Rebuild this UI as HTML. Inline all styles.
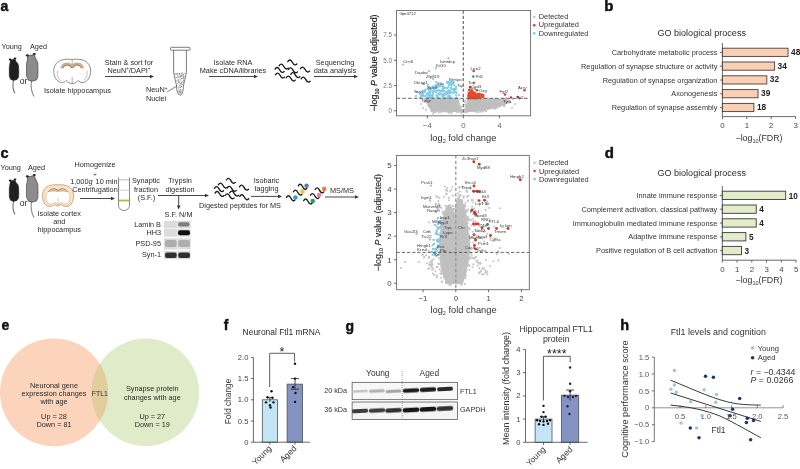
<!DOCTYPE html>
<html><head><meta charset="utf-8"><style>
html,body{margin:0;padding:0;background:#fff;width:800px;height:469px;overflow:hidden}
svg{display:block;font-family:"Liberation Sans",sans-serif;will-change:transform}
</style></head><body>
<svg width="800" height="469" viewBox="0 0 800 469">
<defs><filter id="bl" x="-20%" y="-100%" width="140%" height="300%"><feGaussianBlur stdDeviation="0.45"/></filter></defs>
<rect width="800" height="469" fill="#fff"/>
<text x="0.50" y="10.90" font-size="14" text-anchor="start" font-weight="bold" fill="#111" stroke="#111" stroke-width="0.45">a</text>
<text x="1.50" y="48.80" font-size="7.3" text-anchor="start" font-weight="normal" fill="#2b2b2b" >Young</text>
<text x="30.00" y="48.80" font-size="7.3" text-anchor="start" font-weight="normal" fill="#2b2b2b" >Aged</text>
<path d="M13.5,80 C12.5,85 13,90 15,93.5" fill="none" stroke="#777" stroke-width="1.1" />
<path d="M31.5,81 C30.5,87 32,93 34,96.5" fill="none" stroke="#888" stroke-width="1.1" />
<path d="M10.5,60 L15,59.2 L16,61.5 L17.8,63.5 L18.6,66 L18.8,72 L18.6,77 L17,79.5 L13.5,80.4 L10.5,79.2 L9.3,76 L9.3,67 L10,63 Z" fill="#1f1f1f" stroke="#222" stroke-width="0.6" />
<ellipse cx="10.2" cy="59.6" rx="1.4" ry="1.0" fill="#1a1a1a"/>
<ellipse cx="15.0" cy="58.6" rx="1.4" ry="1.0" fill="#1a1a1a"/>
<path d="M27.5,55.8 L34.5,54.6 L35,57 L36.5,60 L37.8,63 L38,72 L37.8,77 L36.5,80 L32,81.2 L28.5,80.2 L26.5,76 L26.5,64 L27.5,59 Z" fill="#8c8c8c" stroke="#333" stroke-width="0.6" />
<ellipse cx="27.3" cy="55.4" rx="1.6" ry="1.1" fill="#2a2a2a"/>
<ellipse cx="34.3" cy="54.0" rx="1.6" ry="1.1" fill="#2a2a2a"/>
<text x="19.80" y="84.30" font-size="8.6" text-anchor="start" font-weight="normal" fill="#2b2b2b" >or</text>
<path d="M72.2,59.5 C64,58.5 56,60 54,68 C53,74 55,79 58,81 C61,83.5 64,83 66,80.5 C68,82.5 70,83.5 72.2,83.5 C74.4,83.5 76.4,82.5 78.4,80.5 C80.4,83 83.4,83.5 86.4,81 C89.4,79 91.4,74 90.4,68 C88.4,60 80.4,58.5 72.2,59.5 Z" fill="#fff" stroke="#444" stroke-width="0.6" />
<path d="M72.2,59.5 L72.2,68.5 M72.2,77 L72.2,83.5" fill="none" stroke="#555" stroke-width="0.45" />
<path d="M57.5,70.5 C56.8,74.5 57.8,78 60.5,80.5 M86.9,70.5 C87.6,74.5 86.6,78 83.9,80.5" fill="none" stroke="#777" stroke-width="0.45" />
<path d="M61.8,68.2 C62.3,64.8 65.8,63.6 68.8,64.2 C70.6,64.7 71.6,66 72,67.6 M82.6,68.2 C82.1,64.8 78.6,63.6 75.6,64.2 C73.8,64.7 72.8,66 72.4,67.6" fill="none" stroke="#cfae92" stroke-width="3.2" />
<path d="M62.8,68.2 C63.4,65.6 66.3,64.7 68.9,65.2 C70.3,65.6 71.2,66.6 71.6,67.8 M81.6,68.2 C81,65.6 78.1,64.7 75.5,65.2 C74.1,65.6 73.2,66.6 72.8,67.8" fill="none" stroke="#7a5f4c" stroke-width="0.6" />
<text x="44.00" y="93.30" font-size="7.3" text-anchor="start" font-weight="normal" fill="#2b2b2b" >Isolate hippocampus</text>
<text x="129.00" y="64.50" font-size="7.3" text-anchor="middle" font-weight="normal" fill="#2b2b2b" >Stain &amp; sort for</text>
<text x="129" y="72.8" font-size="7.3" text-anchor="middle" fill="#2b2b2b">NeuN<tspan dy="-2.6" font-size="4.5">+</tspan><tspan dy="2.6">/DAPI</tspan><tspan dy="-2.6" font-size="4.5">+</tspan></text>
<line x1="105.00" y1="76.50" x2="151.00" y2="76.50" stroke="#333" stroke-width="0.9" />
<path d="M154.00,76.50 L150.00,74.70 L150.00,78.30 Z" fill="#333" stroke="none" stroke-width="0.8" />
<path d="M173.6,50 L173.6,72 C174.3,77 175.8,82 176.6,86 C176.8,92 178,95 180,95 C182,95 183.2,92 183.4,86 C184.2,82 185.7,77 186.4,72 L186.4,50" fill="#fff" stroke="#444" stroke-width="0.7" />
<rect x="170.50" y="47.30" width="19.50" height="2.90" fill="#fff" stroke="#444" stroke-width="0.7" rx="0.8"/>
<circle cx="180.53" cy="77.62" r="0.45" fill="#888" />
<circle cx="179.69" cy="92.19" r="0.45" fill="#aaa" />
<circle cx="181.67" cy="82.74" r="0.45" fill="#666" />
<circle cx="175.82" cy="77.49" r="0.45" fill="#aaa" />
<circle cx="181.14" cy="78.29" r="0.45" fill="#888" />
<circle cx="183.61" cy="80.99" r="0.45" fill="#888" />
<circle cx="177.10" cy="83.14" r="0.45" fill="#aaa" />
<circle cx="181.52" cy="81.88" r="0.45" fill="#888" />
<circle cx="180.41" cy="84.84" r="0.45" fill="#888" />
<circle cx="180.83" cy="91.95" r="0.45" fill="#aaa" />
<circle cx="181.60" cy="86.59" r="0.45" fill="#aaa" />
<circle cx="181.67" cy="82.86" r="0.45" fill="#888" />
<circle cx="183.61" cy="74.40" r="0.45" fill="#888" />
<circle cx="178.98" cy="81.68" r="0.45" fill="#666" />
<circle cx="181.37" cy="73.45" r="0.45" fill="#666" />
<circle cx="181.04" cy="80.62" r="0.45" fill="#aaa" />
<circle cx="178.90" cy="76.74" r="0.45" fill="#aaa" />
<circle cx="182.28" cy="78.16" r="0.45" fill="#888" />
<circle cx="178.53" cy="91.78" r="0.45" fill="#888" />
<circle cx="178.63" cy="91.20" r="0.45" fill="#aaa" />
<circle cx="181.61" cy="78.33" r="0.45" fill="#aaa" />
<circle cx="177.61" cy="77.61" r="0.45" fill="#888" />
<circle cx="180.58" cy="83.70" r="0.45" fill="#666" />
<circle cx="178.52" cy="79.27" r="0.45" fill="#aaa" />
<circle cx="179.60" cy="85.99" r="0.45" fill="#aaa" />
<circle cx="181.31" cy="92.22" r="0.45" fill="#888" />
<circle cx="182.11" cy="73.80" r="0.45" fill="#888" />
<circle cx="179.48" cy="77.90" r="0.45" fill="#aaa" />
<circle cx="183.10" cy="76.48" r="0.45" fill="#aaa" />
<circle cx="183.45" cy="78.18" r="0.45" fill="#666" />
<circle cx="182.82" cy="84.74" r="0.45" fill="#888" />
<circle cx="181.84" cy="83.25" r="0.45" fill="#888" />
<circle cx="176.25" cy="77.63" r="0.45" fill="#888" />
<circle cx="182.90" cy="74.22" r="0.45" fill="#666" />
<circle cx="179.41" cy="91.53" r="0.45" fill="#666" />
<circle cx="177.78" cy="93.09" r="0.45" fill="#aaa" />
<circle cx="177.34" cy="76.45" r="0.45" fill="#aaa" />
<circle cx="181.43" cy="74.34" r="0.45" fill="#aaa" />
<circle cx="177.50" cy="75.29" r="0.45" fill="#888" />
<circle cx="181.61" cy="82.49" r="0.45" fill="#888" />
<circle cx="178.91" cy="81.53" r="0.45" fill="#888" />
<circle cx="179.21" cy="93.72" r="0.45" fill="#aaa" />
<circle cx="182.95" cy="77.27" r="0.45" fill="#aaa" />
<circle cx="180.15" cy="89.76" r="0.45" fill="#666" />
<circle cx="181.95" cy="78.95" r="0.45" fill="#aaa" />
<circle cx="176.65" cy="73.82" r="0.45" fill="#666" />
<circle cx="183.50" cy="76.18" r="0.45" fill="#666" />
<circle cx="177.26" cy="73.57" r="0.45" fill="#888" />
<circle cx="180.24" cy="85.79" r="0.45" fill="#666" />
<circle cx="183.32" cy="82.67" r="0.45" fill="#666" />
<circle cx="180.18" cy="87.82" r="0.45" fill="#888" />
<circle cx="177.77" cy="79.29" r="0.45" fill="#888" />
<circle cx="178.68" cy="80.79" r="0.45" fill="#888" />
<circle cx="176.29" cy="80.26" r="0.45" fill="#888" />
<circle cx="182.68" cy="72.58" r="0.45" fill="#666" />
<circle cx="181.80" cy="82.41" r="0.45" fill="#aaa" />
<circle cx="183.61" cy="80.68" r="0.45" fill="#aaa" />
<circle cx="177.24" cy="77.20" r="0.45" fill="#aaa" />
<circle cx="179.10" cy="74.04" r="0.45" fill="#888" />
<circle cx="182.29" cy="75.11" r="0.45" fill="#aaa" />
<circle cx="182.01" cy="89.54" r="0.45" fill="#aaa" />
<circle cx="180.38" cy="79.35" r="0.45" fill="#aaa" />
<circle cx="179.68" cy="87.91" r="0.45" fill="#666" />
<circle cx="175.19" cy="74.47" r="0.45" fill="#888" />
<circle cx="182.08" cy="90.64" r="0.45" fill="#aaa" />
<circle cx="180.95" cy="92.98" r="0.45" fill="#666" />
<circle cx="183.21" cy="73.28" r="0.45" fill="#aaa" />
<circle cx="176.86" cy="83.87" r="0.45" fill="#aaa" />
<circle cx="177.89" cy="73.81" r="0.45" fill="#aaa" />
<circle cx="181.75" cy="93.96" r="0.45" fill="#888" />
<circle cx="178.41" cy="80.97" r="0.45" fill="#888" />
<circle cx="180.68" cy="92.68" r="0.45" fill="#666" />
<circle cx="176.82" cy="80.57" r="0.45" fill="#888" />
<circle cx="180.82" cy="81.43" r="0.45" fill="#aaa" />
<circle cx="180.21" cy="86.99" r="0.45" fill="#888" />
<circle cx="178.81" cy="75.86" r="0.45" fill="#666" />
<circle cx="179.98" cy="76.00" r="0.45" fill="#888" />
<circle cx="180.21" cy="92.21" r="0.45" fill="#888" />
<circle cx="183.02" cy="75.43" r="0.45" fill="#666" />
<circle cx="177.78" cy="85.09" r="0.45" fill="#666" />
<circle cx="180.46" cy="90.81" r="0.45" fill="#888" />
<circle cx="181.01" cy="85.30" r="0.45" fill="#888" />
<circle cx="177.69" cy="91.62" r="0.45" fill="#888" />
<circle cx="178.59" cy="82.81" r="0.45" fill="#666" />
<circle cx="182.37" cy="81.50" r="0.45" fill="#aaa" />
<circle cx="179.62" cy="85.38" r="0.45" fill="#aaa" />
<circle cx="179.78" cy="84.48" r="0.45" fill="#aaa" />
<circle cx="184.93" cy="73.49" r="0.45" fill="#666" />
<circle cx="176.61" cy="73.99" r="0.45" fill="#888" />
<circle cx="176.28" cy="77.70" r="0.45" fill="#888" />
<circle cx="181.46" cy="75.46" r="0.45" fill="#aaa" />
<circle cx="184.38" cy="77.98" r="0.45" fill="#888" />
<circle cx="179.43" cy="73.28" r="0.45" fill="#aaa" />
<circle cx="179.23" cy="79.70" r="0.45" fill="#888" />
<circle cx="181.73" cy="74.18" r="0.45" fill="#aaa" />
<circle cx="178.69" cy="93.04" r="0.45" fill="#aaa" />
<circle cx="179.19" cy="74.14" r="0.45" fill="#888" />
<circle cx="183.27" cy="80.55" r="0.45" fill="#888" />
<circle cx="182.11" cy="78.85" r="0.45" fill="#aaa" />
<circle cx="180.79" cy="79.78" r="0.45" fill="#aaa" />
<circle cx="179.93" cy="74.94" r="0.45" fill="#888" />
<circle cx="177.53" cy="73.78" r="0.45" fill="#aaa" />
<circle cx="181.57" cy="86.38" r="0.45" fill="#666" />
<circle cx="181.80" cy="86.37" r="0.45" fill="#888" />
<circle cx="181.77" cy="84.43" r="0.45" fill="#888" />
<circle cx="183.39" cy="82.87" r="0.45" fill="#aaa" />
<circle cx="182.59" cy="73.97" r="0.45" fill="#aaa" />
<circle cx="182.88" cy="84.18" r="0.45" fill="#888" />
<circle cx="177.25" cy="74.65" r="0.45" fill="#666" />
<circle cx="176.97" cy="83.35" r="0.45" fill="#aaa" />
<circle cx="177.99" cy="80.11" r="0.45" fill="#888" />
<circle cx="179.98" cy="73.99" r="0.45" fill="#666" />
<circle cx="181.08" cy="75.76" r="0.45" fill="#aaa" />
<circle cx="183.35" cy="74.92" r="0.45" fill="#aaa" />
<circle cx="182.38" cy="74.91" r="0.45" fill="#aaa" />
<circle cx="182.92" cy="81.46" r="0.45" fill="#aaa" />
<circle cx="181.29" cy="75.26" r="0.45" fill="#888" />
<circle cx="180.54" cy="89.66" r="0.45" fill="#666" />
<circle cx="183.38" cy="77.88" r="0.45" fill="#666" />
<circle cx="179.34" cy="90.61" r="0.45" fill="#888" />
<circle cx="178.60" cy="92.91" r="0.45" fill="#aaa" />
<circle cx="177.72" cy="91.98" r="0.45" fill="#888" />
<circle cx="181.22" cy="82.91" r="0.45" fill="#aaa" />
<circle cx="181.50" cy="76.22" r="0.45" fill="#666" />
<circle cx="180.35" cy="76.66" r="0.45" fill="#666" />
<circle cx="181.89" cy="78.59" r="0.45" fill="#666" />
<circle cx="183.51" cy="75.42" r="0.45" fill="#aaa" />
<circle cx="180.07" cy="85.79" r="0.45" fill="#888" />
<circle cx="181.21" cy="90.95" r="0.45" fill="#666" />
<circle cx="183.68" cy="79.89" r="0.45" fill="#666" />
<circle cx="179.24" cy="91.02" r="0.45" fill="#666" />
<circle cx="174.94" cy="73.42" r="0.45" fill="#666" />
<circle cx="178.70" cy="87.68" r="0.45" fill="#888" />
<circle cx="180.45" cy="87.53" r="0.45" fill="#888" />
<circle cx="179.87" cy="76.98" r="0.45" fill="#666" />
<circle cx="183.09" cy="82.48" r="0.45" fill="#888" />
<circle cx="179.46" cy="81.93" r="0.45" fill="#666" />
<circle cx="178.40" cy="87.97" r="0.45" fill="#888" />
<circle cx="178.34" cy="82.13" r="0.45" fill="#888" />
<circle cx="183.40" cy="76.99" r="0.45" fill="#666" />
<circle cx="180.41" cy="90.89" r="0.45" fill="#666" />
<circle cx="176.05" cy="77.00" r="0.45" fill="#888" />
<circle cx="181.64" cy="83.33" r="0.45" fill="#666" />
<circle cx="176.02" cy="74.87" r="0.45" fill="#888" />
<circle cx="184.10" cy="76.47" r="0.45" fill="#888" />
<circle cx="178.89" cy="82.13" r="0.45" fill="#aaa" />
<circle cx="179.92" cy="73.34" r="0.45" fill="#666" />
<circle cx="178.67" cy="77.69" r="0.45" fill="#666" />
<circle cx="181.47" cy="76.04" r="0.45" fill="#888" />
<circle cx="181.13" cy="92.12" r="0.45" fill="#aaa" />
<circle cx="179.86" cy="93.18" r="0.45" fill="#aaa" />
<circle cx="183.78" cy="78.22" r="0.45" fill="#aaa" />
<circle cx="179.22" cy="73.72" r="0.45" fill="#666" />
<circle cx="175.09" cy="73.15" r="0.45" fill="#666" />
<circle cx="179.78" cy="83.32" r="0.45" fill="#666" />
<circle cx="177.66" cy="73.24" r="0.45" fill="#aaa" />
<circle cx="178.73" cy="86.08" r="0.45" fill="#888" />
<circle cx="178.96" cy="76.46" r="0.45" fill="#aaa" />
<circle cx="178.01" cy="80.88" r="0.45" fill="#aaa" />
<circle cx="178.83" cy="89.23" r="0.45" fill="#aaa" />
<text x="146" y="92.3" font-size="7.3" fill="#2b2b2b">NeuN<tspan dy="-2.6" font-size="4.5">+</tspan></text>
<text x="146.00" y="100.60" font-size="7.3" text-anchor="start" font-weight="normal" fill="#2b2b2b" >Nuclei</text>
<line x1="167.00" y1="92.00" x2="177.00" y2="86.00" stroke="#333" stroke-width="0.6" />
<text x="233.00" y="64.50" font-size="7.3" text-anchor="middle" font-weight="normal" fill="#2b2b2b" >Isolate RNA</text>
<text x="233.00" y="72.80" font-size="7.3" text-anchor="middle" font-weight="normal" fill="#2b2b2b" >Make cDNA/libraries</text>
<line x1="209.00" y1="76.50" x2="255.00" y2="76.50" stroke="#333" stroke-width="0.9" />
<path d="M258.00,76.50 L254.00,74.70 L254.00,78.30 Z" fill="#333" stroke="none" stroke-width="0.8" />
<path d="M287.80,61.60 c1.30,-2.2 3.00,-2.3 4.50,0.6 c1.50,2.9 3.20,3.4 4.50,1.8" fill="none" stroke="#1a1a1a" stroke-width="1.35" stroke-linecap="round"/>
<path d="M279.20,65.70 c1.30,-2.2 3.00,-2.3 4.50,0.6 c1.50,2.9 3.20,3.4 4.50,1.8" fill="none" stroke="#1a1a1a" stroke-width="1.35" stroke-linecap="round"/>
<path d="M275.10,69.10 c1.30,-2.2 3.00,-2.3 4.50,0.6 c1.50,2.9 3.20,3.4 4.50,1.8" fill="none" stroke="#1a1a1a" stroke-width="1.35" stroke-linecap="round"/>
<path d="M288.50,69.50 c1.30,-2.2 3.00,-2.3 4.50,0.6 c1.50,2.9 3.20,3.4 4.50,1.8" fill="none" stroke="#1a1a1a" stroke-width="1.35" stroke-linecap="round"/>
<path d="M300.50,68.70 c1.30,-2.2 3.00,-2.3 4.50,0.6 c1.50,2.9 3.20,3.4 4.50,1.8" fill="none" stroke="#1a1a1a" stroke-width="1.35" stroke-linecap="round"/>
<path d="M275.50,74.70 c1.30,-2.2 3.00,-2.3 4.50,0.6 c1.50,2.9 3.20,3.4 4.50,1.8" fill="none" stroke="#1a1a1a" stroke-width="1.35" stroke-linecap="round"/>
<path d="M286.30,77.70 c1.30,-2.2 3.00,-2.3 4.50,0.6 c1.50,2.9 3.20,3.4 4.50,1.8" fill="none" stroke="#1a1a1a" stroke-width="1.35" stroke-linecap="round"/>
<path d="M290.80,74.30 c1.30,-2.2 3.00,-2.3 4.50,0.6 c1.50,2.9 3.20,3.4 4.50,1.8" fill="none" stroke="#1a1a1a" stroke-width="1.35" stroke-linecap="round"/>
<path d="M301.20,78.80 c1.30,-2.2 3.00,-2.3 4.50,0.6 c1.50,2.9 3.20,3.4 4.50,1.8" fill="none" stroke="#1a1a1a" stroke-width="1.35" stroke-linecap="round"/>
<text x="335.00" y="64.50" font-size="7.3" text-anchor="middle" font-weight="normal" fill="#2b2b2b" >Sequencing</text>
<text x="335.00" y="72.80" font-size="7.3" text-anchor="middle" font-weight="normal" fill="#2b2b2b" >data analysis</text>
<line x1="314.00" y1="76.50" x2="355.00" y2="76.50" stroke="#333" stroke-width="0.9" />
<path d="M358.00,76.50 L354.00,74.70 L354.00,78.30 Z" fill="#333" stroke="none" stroke-width="0.8" />
<path d="M425,98.5 L457.5,98.5 L462.6,111.5 L464,111.5 L467.5,98.5 L506,98.5 L511,100.5 L507,104 L496,108 L482,111 L470,112 L445,112 L433,111.8 L428,107 Z" fill="#bebebe" stroke="none" stroke-width="0.8" />
<circle cx="468.69" cy="106.60" r="1.0" fill="#bebebe" />
<circle cx="440.25" cy="105.43" r="1.0" fill="#bebebe" />
<circle cx="479.43" cy="109.79" r="1.0" fill="#bebebe" />
<circle cx="432.28" cy="102.20" r="1.0" fill="#bebebe" />
<circle cx="431.98" cy="110.05" r="1.0" fill="#bebebe" />
<circle cx="481.55" cy="107.04" r="1.0" fill="#bebebe" />
<circle cx="440.74" cy="101.25" r="1.0" fill="#bebebe" />
<circle cx="469.68" cy="107.42" r="1.0" fill="#bebebe" />
<circle cx="467.98" cy="107.77" r="1.0" fill="#bebebe" />
<circle cx="451.74" cy="101.06" r="1.0" fill="#bebebe" />
<circle cx="449.44" cy="98.59" r="1.0" fill="#bebebe" />
<circle cx="491.43" cy="103.71" r="1.0" fill="#bebebe" />
<circle cx="498.50" cy="103.49" r="1.0" fill="#bebebe" />
<circle cx="504.10" cy="104.78" r="1.0" fill="#bebebe" />
<circle cx="430.43" cy="107.26" r="1.0" fill="#bebebe" />
<circle cx="492.51" cy="101.68" r="1.0" fill="#bebebe" />
<circle cx="431.67" cy="102.66" r="1.0" fill="#bebebe" />
<circle cx="434.38" cy="101.32" r="1.0" fill="#bebebe" />
<circle cx="494.14" cy="100.25" r="1.0" fill="#bebebe" />
<circle cx="473.22" cy="104.44" r="1.0" fill="#bebebe" />
<circle cx="440.78" cy="108.84" r="1.0" fill="#bebebe" />
<circle cx="435.53" cy="107.48" r="1.0" fill="#bebebe" />
<circle cx="434.25" cy="104.02" r="1.0" fill="#bebebe" />
<circle cx="442.73" cy="101.68" r="1.0" fill="#bebebe" />
<circle cx="450.76" cy="111.22" r="1.0" fill="#bebebe" />
<circle cx="442.54" cy="103.61" r="1.0" fill="#bebebe" />
<circle cx="442.77" cy="101.50" r="1.0" fill="#bebebe" />
<circle cx="492.00" cy="102.60" r="1.0" fill="#bebebe" />
<circle cx="450.08" cy="98.64" r="1.0" fill="#bebebe" />
<circle cx="431.93" cy="106.53" r="1.0" fill="#bebebe" />
<circle cx="445.39" cy="106.82" r="1.0" fill="#bebebe" />
<circle cx="456.71" cy="104.52" r="1.0" fill="#bebebe" />
<circle cx="474.56" cy="110.93" r="1.0" fill="#bebebe" />
<circle cx="440.09" cy="99.89" r="1.0" fill="#bebebe" />
<circle cx="445.96" cy="100.44" r="1.0" fill="#bebebe" />
<circle cx="444.98" cy="108.42" r="1.0" fill="#bebebe" />
<circle cx="446.61" cy="110.27" r="1.0" fill="#bebebe" />
<circle cx="476.49" cy="102.05" r="1.0" fill="#bebebe" />
<circle cx="439.44" cy="108.67" r="1.0" fill="#bebebe" />
<circle cx="430.05" cy="101.04" r="1.0" fill="#bebebe" />
<circle cx="473.22" cy="110.71" r="1.0" fill="#bebebe" />
<circle cx="478.06" cy="101.84" r="1.0" fill="#bebebe" />
<circle cx="504.73" cy="100.66" r="1.0" fill="#bebebe" />
<circle cx="439.51" cy="103.22" r="1.0" fill="#bebebe" />
<circle cx="474.35" cy="99.54" r="1.0" fill="#bebebe" />
<circle cx="455.87" cy="111.31" r="1.0" fill="#bebebe" />
<circle cx="484.83" cy="106.56" r="1.0" fill="#bebebe" />
<circle cx="466.44" cy="108.82" r="1.0" fill="#bebebe" />
<circle cx="430.62" cy="105.96" r="1.0" fill="#bebebe" />
<circle cx="488.86" cy="108.41" r="1.0" fill="#bebebe" />
<circle cx="454.96" cy="108.12" r="1.0" fill="#bebebe" />
<circle cx="460.71" cy="109.75" r="1.0" fill="#bebebe" />
<circle cx="499.99" cy="106.38" r="1.0" fill="#bebebe" />
<circle cx="479.00" cy="103.43" r="1.0" fill="#bebebe" />
<circle cx="475.28" cy="106.94" r="1.0" fill="#bebebe" />
<circle cx="431.06" cy="107.41" r="1.0" fill="#bebebe" />
<circle cx="488.08" cy="103.52" r="1.0" fill="#bebebe" />
<circle cx="488.68" cy="106.50" r="1.0" fill="#bebebe" />
<circle cx="431.37" cy="109.13" r="1.0" fill="#bebebe" />
<circle cx="485.45" cy="105.21" r="1.0" fill="#bebebe" />
<circle cx="450.49" cy="108.01" r="1.0" fill="#bebebe" />
<circle cx="441.83" cy="100.13" r="1.0" fill="#bebebe" />
<circle cx="452.77" cy="107.82" r="1.0" fill="#bebebe" />
<circle cx="441.47" cy="104.18" r="1.0" fill="#bebebe" />
<circle cx="501.46" cy="103.46" r="1.0" fill="#bebebe" />
<circle cx="475.31" cy="102.41" r="1.0" fill="#bebebe" />
<circle cx="435.98" cy="105.20" r="1.0" fill="#bebebe" />
<circle cx="448.36" cy="100.12" r="1.0" fill="#bebebe" />
<circle cx="442.84" cy="103.92" r="1.0" fill="#bebebe" />
<circle cx="479.06" cy="105.16" r="1.0" fill="#bebebe" />
<circle cx="451.75" cy="110.51" r="1.0" fill="#bebebe" />
<circle cx="486.36" cy="106.34" r="1.0" fill="#bebebe" />
<circle cx="451.19" cy="109.77" r="1.0" fill="#bebebe" />
<circle cx="425.68" cy="99.61" r="1.0" fill="#bebebe" />
<circle cx="497.01" cy="101.18" r="1.0" fill="#bebebe" />
<circle cx="479.37" cy="104.42" r="1.0" fill="#bebebe" />
<circle cx="479.44" cy="107.65" r="1.0" fill="#bebebe" />
<circle cx="484.24" cy="100.59" r="1.0" fill="#bebebe" />
<circle cx="486.85" cy="100.28" r="1.0" fill="#bebebe" />
<circle cx="447.97" cy="102.86" r="1.0" fill="#bebebe" />
<circle cx="485.36" cy="105.57" r="1.0" fill="#bebebe" />
<circle cx="478.07" cy="109.22" r="1.0" fill="#bebebe" />
<circle cx="458.63" cy="109.77" r="1.0" fill="#bebebe" />
<circle cx="503.75" cy="98.85" r="1.0" fill="#bebebe" />
<circle cx="435.43" cy="104.53" r="1.0" fill="#bebebe" />
<circle cx="457.16" cy="106.32" r="1.0" fill="#bebebe" />
<circle cx="481.32" cy="100.68" r="1.0" fill="#bebebe" />
<circle cx="480.46" cy="108.62" r="1.0" fill="#bebebe" />
<circle cx="442.77" cy="111.45" r="1.0" fill="#bebebe" />
<circle cx="471.25" cy="109.76" r="1.0" fill="#bebebe" />
<circle cx="452.19" cy="111.60" r="1.0" fill="#bebebe" />
<circle cx="499.31" cy="102.90" r="1.0" fill="#bebebe" />
<circle cx="431.28" cy="104.33" r="1.0" fill="#bebebe" />
<circle cx="472.43" cy="109.41" r="1.0" fill="#bebebe" />
<circle cx="494.39" cy="100.18" r="1.0" fill="#bebebe" />
<circle cx="453.48" cy="109.71" r="1.0" fill="#bebebe" />
<circle cx="436.36" cy="99.80" r="1.0" fill="#bebebe" />
<circle cx="469.45" cy="108.72" r="1.0" fill="#bebebe" />
<circle cx="443.48" cy="105.66" r="1.0" fill="#bebebe" />
<circle cx="449.53" cy="108.80" r="1.0" fill="#bebebe" />
<circle cx="480.22" cy="105.60" r="1.0" fill="#bebebe" />
<circle cx="498.24" cy="106.18" r="1.0" fill="#bebebe" />
<circle cx="451.43" cy="103.41" r="1.0" fill="#bebebe" />
<circle cx="442.33" cy="110.69" r="1.0" fill="#bebebe" />
<circle cx="474.42" cy="100.61" r="1.0" fill="#bebebe" />
<circle cx="471.16" cy="105.30" r="1.0" fill="#bebebe" />
<circle cx="459.25" cy="109.92" r="1.0" fill="#bebebe" />
<circle cx="473.53" cy="105.11" r="1.0" fill="#bebebe" />
<circle cx="484.81" cy="98.52" r="1.0" fill="#bebebe" />
<circle cx="471.41" cy="103.91" r="1.0" fill="#bebebe" />
<circle cx="447.69" cy="104.83" r="1.0" fill="#bebebe" />
<circle cx="435.17" cy="104.22" r="1.0" fill="#bebebe" />
<circle cx="440.85" cy="107.08" r="1.0" fill="#bebebe" />
<circle cx="505.42" cy="99.51" r="1.0" fill="#bebebe" />
<circle cx="441.08" cy="101.02" r="1.0" fill="#bebebe" />
<circle cx="484.46" cy="102.49" r="1.0" fill="#bebebe" />
<circle cx="455.27" cy="107.11" r="1.0" fill="#bebebe" />
<circle cx="433.23" cy="108.83" r="1.0" fill="#bebebe" />
<circle cx="434.80" cy="105.41" r="1.0" fill="#bebebe" />
<circle cx="446.05" cy="100.56" r="1.0" fill="#bebebe" />
<circle cx="470.67" cy="104.27" r="1.0" fill="#bebebe" />
<circle cx="457.06" cy="103.91" r="1.0" fill="#bebebe" />
<circle cx="470.58" cy="99.98" r="1.0" fill="#bebebe" />
<circle cx="441.98" cy="107.29" r="1.0" fill="#bebebe" />
<circle cx="480.19" cy="105.71" r="1.0" fill="#bebebe" />
<circle cx="499.40" cy="101.11" r="1.0" fill="#bebebe" />
<circle cx="503.44" cy="102.40" r="1.0" fill="#bebebe" />
<circle cx="451.72" cy="111.80" r="1.0" fill="#bebebe" />
<circle cx="502.10" cy="99.58" r="1.0" fill="#bebebe" />
<circle cx="445.06" cy="108.76" r="1.0" fill="#bebebe" />
<circle cx="446.84" cy="99.00" r="1.0" fill="#bebebe" />
<circle cx="497.23" cy="104.04" r="1.0" fill="#bebebe" />
<circle cx="493.51" cy="99.45" r="1.0" fill="#bebebe" />
<circle cx="459.44" cy="108.12" r="1.0" fill="#bebebe" />
<circle cx="468.50" cy="109.25" r="1.0" fill="#bebebe" />
<circle cx="468.25" cy="108.13" r="1.0" fill="#bebebe" />
<circle cx="440.63" cy="98.59" r="1.0" fill="#bebebe" />
<circle cx="472.55" cy="105.48" r="1.0" fill="#bebebe" />
<circle cx="474.05" cy="99.77" r="1.0" fill="#bebebe" />
<circle cx="440.24" cy="100.66" r="1.0" fill="#bebebe" />
<circle cx="505.57" cy="98.98" r="1.0" fill="#bebebe" />
<circle cx="464.66" cy="109.35" r="1.0" fill="#bebebe" />
<circle cx="452.76" cy="104.74" r="1.0" fill="#bebebe" />
<circle cx="469.35" cy="104.17" r="1.0" fill="#bebebe" />
<circle cx="439.95" cy="104.54" r="1.0" fill="#bebebe" />
<circle cx="489.06" cy="103.78" r="1.0" fill="#bebebe" />
<circle cx="441.17" cy="100.06" r="1.0" fill="#bebebe" />
<circle cx="479.39" cy="103.77" r="1.0" fill="#bebebe" />
<circle cx="476.77" cy="105.32" r="1.0" fill="#bebebe" />
<circle cx="446.73" cy="111.63" r="1.0" fill="#bebebe" />
<circle cx="495.69" cy="103.79" r="1.0" fill="#bebebe" />
<circle cx="485.14" cy="109.39" r="1.0" fill="#bebebe" />
<circle cx="491.34" cy="103.79" r="1.0" fill="#bebebe" />
<circle cx="487.59" cy="98.59" r="1.0" fill="#bebebe" />
<circle cx="454.07" cy="104.77" r="1.0" fill="#bebebe" />
<circle cx="480.21" cy="107.17" r="1.0" fill="#bebebe" />
<circle cx="482.62" cy="102.74" r="1.0" fill="#bebebe" />
<circle cx="482.06" cy="106.33" r="1.0" fill="#bebebe" />
<circle cx="470.91" cy="103.54" r="1.0" fill="#bebebe" />
<circle cx="485.71" cy="109.31" r="1.0" fill="#bebebe" />
<circle cx="478.15" cy="108.95" r="1.0" fill="#bebebe" />
<circle cx="446.58" cy="103.72" r="1.0" fill="#bebebe" />
<circle cx="428.44" cy="100.53" r="1.0" fill="#bebebe" />
<circle cx="457.06" cy="99.03" r="1.0" fill="#bebebe" />
<circle cx="446.08" cy="111.54" r="1.0" fill="#bebebe" />
<circle cx="472.41" cy="105.37" r="1.0" fill="#bebebe" />
<circle cx="495.24" cy="98.68" r="1.0" fill="#bebebe" />
<circle cx="476.58" cy="109.27" r="1.0" fill="#bebebe" />
<circle cx="438.07" cy="104.81" r="1.0" fill="#bebebe" />
<circle cx="438.88" cy="105.18" r="1.0" fill="#bebebe" />
<circle cx="470.35" cy="106.77" r="1.0" fill="#bebebe" />
<circle cx="456.17" cy="101.93" r="1.0" fill="#bebebe" />
<circle cx="481.65" cy="106.19" r="1.0" fill="#bebebe" />
<circle cx="448.95" cy="108.61" r="1.0" fill="#bebebe" />
<circle cx="437.78" cy="109.20" r="1.0" fill="#bebebe" />
<circle cx="458.32" cy="111.41" r="1.0" fill="#bebebe" />
<circle cx="509.64" cy="101.28" r="1.0" fill="#bebebe" />
<circle cx="487.60" cy="104.76" r="1.0" fill="#bebebe" />
<circle cx="477.12" cy="99.28" r="1.0" fill="#bebebe" />
<circle cx="478.93" cy="104.56" r="1.0" fill="#bebebe" />
<circle cx="470.47" cy="99.43" r="1.0" fill="#bebebe" />
<circle cx="475.24" cy="104.00" r="1.0" fill="#bebebe" />
<circle cx="492.46" cy="105.73" r="1.0" fill="#bebebe" />
<circle cx="488.62" cy="101.20" r="1.0" fill="#bebebe" />
<circle cx="434.02" cy="111.34" r="1.0" fill="#bebebe" />
<circle cx="493.02" cy="107.19" r="1.0" fill="#bebebe" />
<circle cx="455.61" cy="101.71" r="1.0" fill="#bebebe" />
<circle cx="484.28" cy="106.26" r="1.0" fill="#bebebe" />
<circle cx="476.07" cy="107.31" r="1.0" fill="#bebebe" />
<circle cx="490.29" cy="100.44" r="1.0" fill="#bebebe" />
<circle cx="447.84" cy="104.09" r="1.0" fill="#bebebe" />
<circle cx="478.85" cy="99.09" r="1.0" fill="#bebebe" />
<circle cx="471.67" cy="98.62" r="1.0" fill="#bebebe" />
<circle cx="431.61" cy="107.98" r="1.0" fill="#bebebe" />
<circle cx="472.46" cy="107.28" r="1.0" fill="#bebebe" />
<circle cx="456.84" cy="104.92" r="1.0" fill="#bebebe" />
<circle cx="442.54" cy="102.83" r="1.0" fill="#bebebe" />
<circle cx="430.54" cy="99.36" r="1.0" fill="#bebebe" />
<circle cx="495.21" cy="107.17" r="1.0" fill="#bebebe" />
<circle cx="491.65" cy="100.80" r="1.0" fill="#bebebe" />
<circle cx="495.27" cy="103.22" r="1.0" fill="#bebebe" />
<circle cx="452.63" cy="106.00" r="1.0" fill="#bebebe" />
<circle cx="432.54" cy="111.07" r="1.0" fill="#bebebe" />
<circle cx="430.91" cy="98.79" r="1.0" fill="#bebebe" />
<circle cx="473.65" cy="105.02" r="1.0" fill="#bebebe" />
<circle cx="484.31" cy="102.13" r="1.0" fill="#bebebe" />
<circle cx="492.24" cy="98.68" r="1.0" fill="#bebebe" />
<circle cx="442.77" cy="107.76" r="1.0" fill="#bebebe" />
<circle cx="431.19" cy="102.21" r="1.0" fill="#bebebe" />
<circle cx="487.80" cy="108.26" r="1.0" fill="#bebebe" />
<circle cx="448.90" cy="99.72" r="1.0" fill="#bebebe" />
<circle cx="455.49" cy="108.75" r="1.0" fill="#bebebe" />
<circle cx="456.24" cy="99.32" r="1.0" fill="#bebebe" />
<circle cx="486.42" cy="106.32" r="1.0" fill="#bebebe" />
<circle cx="504.38" cy="104.29" r="1.0" fill="#bebebe" />
<circle cx="494.67" cy="102.22" r="1.0" fill="#bebebe" />
<circle cx="451.95" cy="103.69" r="1.0" fill="#bebebe" />
<circle cx="445.85" cy="103.11" r="1.0" fill="#bebebe" />
<circle cx="456.17" cy="103.13" r="1.0" fill="#bebebe" />
<circle cx="458.81" cy="103.51" r="1.0" fill="#bebebe" />
<circle cx="458.22" cy="100.75" r="1.0" fill="#c2c2c2" />
<circle cx="462.12" cy="110.07" r="1.0" fill="#c2c2c2" />
<circle cx="458.50" cy="101.70" r="1.0" fill="#c2c2c2" />
<circle cx="457.48" cy="100.08" r="1.0" fill="#c2c2c2" />
<circle cx="457.27" cy="102.97" r="1.0" fill="#c2c2c2" />
<circle cx="461.40" cy="106.47" r="1.0" fill="#c2c2c2" />
<circle cx="459.51" cy="99.35" r="1.0" fill="#c2c2c2" />
<circle cx="467.58" cy="99.85" r="1.0" fill="#c2c2c2" />
<circle cx="467.53" cy="98.57" r="1.0" fill="#c2c2c2" />
<circle cx="465.30" cy="100.56" r="1.0" fill="#c2c2c2" />
<circle cx="465.11" cy="104.49" r="1.0" fill="#c2c2c2" />
<circle cx="465.31" cy="106.28" r="1.0" fill="#c2c2c2" />
<circle cx="467.74" cy="98.62" r="1.0" fill="#c2c2c2" />
<circle cx="464.85" cy="102.07" r="1.0" fill="#c2c2c2" />
<circle cx="506.19" cy="97.99" r="1.0" fill="#c2c2c2" />
<circle cx="507.24" cy="99.78" r="1.0" fill="#c2c2c2" />
<circle cx="508.67" cy="101.66" r="1.0" fill="#c2c2c2" />
<circle cx="510.21" cy="102.57" r="1.0" fill="#c2c2c2" />
<circle cx="504.47" cy="105.47" r="1.0" fill="#c2c2c2" />
<circle cx="504.27" cy="105.98" r="1.0" fill="#c2c2c2" />
<circle cx="495.28" cy="108.63" r="1.0" fill="#c2c2c2" />
<circle cx="497.27" cy="107.85" r="1.0" fill="#c2c2c2" />
<circle cx="498.88" cy="106.25" r="1.0" fill="#c2c2c2" />
<circle cx="503.52" cy="105.47" r="1.0" fill="#c2c2c2" />
<circle cx="483.81" cy="110.15" r="1.0" fill="#c2c2c2" />
<circle cx="482.93" cy="111.46" r="1.0" fill="#c2c2c2" />
<circle cx="495.42" cy="108.22" r="1.0" fill="#c2c2c2" />
<circle cx="486.21" cy="111.24" r="1.0" fill="#c2c2c2" />
<circle cx="487.07" cy="109.33" r="1.0" fill="#c2c2c2" />
<circle cx="485.36" cy="110.75" r="1.0" fill="#c2c2c2" />
<circle cx="493.50" cy="108.14" r="1.0" fill="#c2c2c2" />
<circle cx="480.60" cy="111.71" r="1.0" fill="#c2c2c2" />
<circle cx="475.06" cy="111.50" r="1.0" fill="#c2c2c2" />
<circle cx="476.48" cy="111.73" r="1.0" fill="#c2c2c2" />
<circle cx="482.47" cy="111.00" r="1.0" fill="#c2c2c2" />
<circle cx="478.22" cy="112.37" r="1.0" fill="#c2c2c2" />
<circle cx="480.13" cy="111.22" r="1.0" fill="#c2c2c2" />
<circle cx="450.04" cy="112.03" r="1.0" fill="#c2c2c2" />
<circle cx="458.77" cy="111.82" r="1.0" fill="#c2c2c2" />
<circle cx="457.74" cy="111.41" r="1.0" fill="#c2c2c2" />
<circle cx="467.01" cy="111.98" r="1.0" fill="#c2c2c2" />
<circle cx="451.46" cy="113.21" r="1.0" fill="#c2c2c2" />
<circle cx="448.70" cy="113.06" r="1.0" fill="#c2c2c2" />
<circle cx="461.14" cy="112.66" r="1.0" fill="#c2c2c2" />
<circle cx="464.74" cy="112.18" r="1.0" fill="#c2c2c2" />
<circle cx="461.50" cy="112.70" r="1.0" fill="#c2c2c2" />
<circle cx="456.73" cy="112.04" r="1.0" fill="#c2c2c2" />
<circle cx="463.98" cy="112.12" r="1.0" fill="#c2c2c2" />
<circle cx="461.42" cy="112.83" r="1.0" fill="#c2c2c2" />
<circle cx="466.89" cy="111.71" r="1.0" fill="#c2c2c2" />
<circle cx="435.29" cy="112.50" r="1.0" fill="#c2c2c2" />
<circle cx="440.85" cy="112.01" r="1.0" fill="#c2c2c2" />
<circle cx="438.76" cy="112.51" r="1.0" fill="#c2c2c2" />
<circle cx="434.31" cy="112.07" r="1.0" fill="#c2c2c2" />
<circle cx="443.74" cy="111.31" r="1.0" fill="#c2c2c2" />
<circle cx="433.79" cy="111.70" r="1.0" fill="#c2c2c2" />
<circle cx="433.00" cy="113.39" r="1.0" fill="#c2c2c2" />
<circle cx="431.30" cy="111.18" r="1.0" fill="#c2c2c2" />
<circle cx="431.50" cy="109.62" r="1.0" fill="#c2c2c2" />
<circle cx="424.67" cy="99.27" r="1.0" fill="#c2c2c2" />
<circle cx="427.39" cy="102.17" r="1.0" fill="#c2c2c2" />
<circle cx="424.89" cy="101.08" r="1.0" fill="#c2c2c2" />
<circle cx="425.71" cy="99.66" r="1.0" fill="#c2c2c2" />
<circle cx="426.87" cy="101.55" r="1.0" fill="#c2c2c2" />
<circle cx="421.00" cy="104.00" r="1.0" fill="#c4c4c4" />
<circle cx="423.00" cy="108.00" r="1.0" fill="#c4c4c4" />
<circle cx="426.00" cy="110.00" r="1.0" fill="#c4c4c4" />
<circle cx="500.00" cy="101.00" r="1.0" fill="#c4c4c4" />
<circle cx="504.00" cy="103.00" r="1.0" fill="#c4c4c4" />
<circle cx="509.00" cy="102.00" r="1.0" fill="#c4c4c4" />
<circle cx="513.00" cy="99.50" r="1.0" fill="#c4c4c4" />
<circle cx="515.00" cy="104.00" r="1.0" fill="#c4c4c4" />
<circle cx="512.00" cy="108.00" r="1.0" fill="#c4c4c4" />
<circle cx="484.00" cy="99.50" r="1.0" fill="#c4c4c4" />
<circle cx="492.00" cy="100.00" r="1.0" fill="#c4c4c4" />
<circle cx="497.00" cy="102.00" r="1.0" fill="#c4c4c4" />
<circle cx="443.42" cy="94.19" r="1.1" fill="#80cbec" />
<circle cx="450.31" cy="98.16" r="1.1" fill="#80cbec" />
<circle cx="448.10" cy="97.76" r="1.1" fill="#80cbec" />
<circle cx="456.23" cy="92.35" r="1.1" fill="#80cbec" />
<circle cx="440.25" cy="90.86" r="1.1" fill="#80cbec" />
<circle cx="429.68" cy="97.64" r="1.1" fill="#80cbec" />
<circle cx="449.13" cy="82.66" r="1.1" fill="#80cbec" />
<circle cx="450.39" cy="82.25" r="1.1" fill="#80cbec" />
<circle cx="440.07" cy="92.92" r="1.1" fill="#80cbec" />
<circle cx="426.69" cy="98.13" r="1.1" fill="#80cbec" />
<circle cx="454.25" cy="85.42" r="1.1" fill="#80cbec" />
<circle cx="430.55" cy="91.44" r="1.1" fill="#80cbec" />
<circle cx="451.24" cy="89.02" r="1.1" fill="#80cbec" />
<circle cx="431.13" cy="89.03" r="1.1" fill="#80cbec" />
<circle cx="448.49" cy="96.23" r="1.1" fill="#80cbec" />
<circle cx="433.15" cy="90.95" r="1.1" fill="#80cbec" />
<circle cx="426.36" cy="94.46" r="1.1" fill="#80cbec" />
<circle cx="455.69" cy="98.15" r="1.1" fill="#80cbec" />
<circle cx="432.28" cy="86.52" r="1.1" fill="#80cbec" />
<circle cx="439.49" cy="94.86" r="1.1" fill="#80cbec" />
<circle cx="422.82" cy="94.32" r="1.1" fill="#80cbec" />
<circle cx="450.39" cy="96.52" r="1.1" fill="#80cbec" />
<circle cx="419.97" cy="98.23" r="1.1" fill="#80cbec" />
<circle cx="442.93" cy="97.68" r="1.1" fill="#80cbec" />
<circle cx="432.10" cy="97.80" r="1.1" fill="#80cbec" />
<circle cx="440.31" cy="85.69" r="1.1" fill="#80cbec" />
<circle cx="442.26" cy="95.86" r="1.1" fill="#80cbec" />
<circle cx="436.73" cy="87.85" r="1.1" fill="#80cbec" />
<circle cx="420.73" cy="97.64" r="1.1" fill="#80cbec" />
<circle cx="452.04" cy="82.09" r="1.1" fill="#80cbec" />
<circle cx="443.72" cy="95.10" r="1.1" fill="#80cbec" />
<circle cx="424.47" cy="96.23" r="1.1" fill="#80cbec" />
<circle cx="430.29" cy="88.47" r="1.1" fill="#80cbec" />
<circle cx="438.03" cy="93.94" r="1.1" fill="#80cbec" />
<circle cx="437.66" cy="85.26" r="1.1" fill="#80cbec" />
<circle cx="438.47" cy="86.20" r="1.1" fill="#80cbec" />
<circle cx="449.78" cy="96.67" r="1.1" fill="#80cbec" />
<circle cx="432.95" cy="95.06" r="1.1" fill="#80cbec" />
<circle cx="449.50" cy="93.25" r="1.1" fill="#80cbec" />
<circle cx="445.06" cy="94.54" r="1.1" fill="#80cbec" />
<circle cx="433.04" cy="93.45" r="1.1" fill="#80cbec" />
<circle cx="429.73" cy="89.12" r="1.1" fill="#80cbec" />
<circle cx="449.29" cy="93.18" r="1.1" fill="#80cbec" />
<circle cx="430.25" cy="98.22" r="1.1" fill="#80cbec" />
<circle cx="444.49" cy="91.00" r="1.1" fill="#80cbec" />
<circle cx="428.53" cy="92.80" r="1.1" fill="#80cbec" />
<circle cx="437.02" cy="95.67" r="1.1" fill="#80cbec" />
<circle cx="444.40" cy="95.29" r="1.1" fill="#80cbec" />
<circle cx="432.42" cy="92.25" r="1.1" fill="#80cbec" />
<circle cx="448.01" cy="95.90" r="1.1" fill="#80cbec" />
<circle cx="432.50" cy="96.19" r="1.1" fill="#80cbec" />
<circle cx="453.30" cy="93.13" r="1.1" fill="#80cbec" />
<circle cx="439.23" cy="89.98" r="1.1" fill="#80cbec" />
<circle cx="425.15" cy="96.07" r="1.1" fill="#80cbec" />
<circle cx="456.00" cy="88.95" r="1.1" fill="#80cbec" />
<circle cx="446.16" cy="93.75" r="1.1" fill="#80cbec" />
<circle cx="447.71" cy="82.90" r="1.1" fill="#80cbec" />
<circle cx="449.71" cy="91.00" r="1.1" fill="#80cbec" />
<circle cx="445.12" cy="87.83" r="1.1" fill="#80cbec" />
<circle cx="443.45" cy="94.84" r="1.1" fill="#80cbec" />
<circle cx="443.97" cy="93.76" r="1.1" fill="#80cbec" />
<circle cx="436.14" cy="92.37" r="1.1" fill="#80cbec" />
<circle cx="427.26" cy="93.08" r="1.1" fill="#80cbec" />
<circle cx="437.11" cy="87.03" r="1.1" fill="#80cbec" />
<circle cx="442.97" cy="91.19" r="1.1" fill="#80cbec" />
<circle cx="428.01" cy="97.38" r="1.1" fill="#80cbec" />
<circle cx="429.64" cy="87.62" r="1.1" fill="#80cbec" />
<circle cx="423.10" cy="95.96" r="1.1" fill="#80cbec" />
<circle cx="440.31" cy="86.22" r="1.1" fill="#80cbec" />
<circle cx="451.24" cy="87.80" r="1.1" fill="#80cbec" />
<circle cx="451.02" cy="92.22" r="1.1" fill="#80cbec" />
<circle cx="442.34" cy="90.66" r="1.1" fill="#80cbec" />
<circle cx="442.84" cy="86.45" r="1.1" fill="#80cbec" />
<circle cx="422.82" cy="90.70" r="1.1" fill="#80cbec" />
<circle cx="443.68" cy="97.15" r="1.1" fill="#80cbec" />
<circle cx="433.53" cy="88.05" r="1.1" fill="#80cbec" />
<circle cx="456.95" cy="97.59" r="1.1" fill="#80cbec" />
<circle cx="442.33" cy="84.64" r="1.1" fill="#80cbec" />
<circle cx="435.12" cy="85.82" r="1.1" fill="#80cbec" />
<circle cx="429.96" cy="88.94" r="1.1" fill="#80cbec" />
<circle cx="423.38" cy="91.81" r="1.1" fill="#80cbec" />
<circle cx="436.24" cy="85.30" r="1.1" fill="#80cbec" />
<circle cx="449.77" cy="95.87" r="1.1" fill="#80cbec" />
<circle cx="429.45" cy="98.02" r="1.1" fill="#80cbec" />
<circle cx="449.78" cy="84.36" r="1.1" fill="#80cbec" />
<circle cx="442.82" cy="88.90" r="1.1" fill="#80cbec" />
<circle cx="444.30" cy="91.46" r="1.1" fill="#80cbec" />
<circle cx="448.24" cy="81.84" r="1.1" fill="#80cbec" />
<circle cx="448.92" cy="85.45" r="1.1" fill="#80cbec" />
<circle cx="439.84" cy="86.16" r="1.1" fill="#80cbec" />
<circle cx="430.37" cy="89.99" r="1.1" fill="#80cbec" />
<circle cx="437.07" cy="86.65" r="1.1" fill="#80cbec" />
<circle cx="448.30" cy="91.20" r="1.1" fill="#80cbec" />
<circle cx="436.72" cy="97.65" r="1.1" fill="#80cbec" />
<circle cx="454.02" cy="90.30" r="1.1" fill="#80cbec" />
<circle cx="435.61" cy="90.90" r="1.1" fill="#80cbec" />
<circle cx="446.83" cy="92.02" r="1.1" fill="#80cbec" />
<circle cx="437.78" cy="97.55" r="1.1" fill="#80cbec" />
<circle cx="433.92" cy="87.26" r="1.1" fill="#80cbec" />
<circle cx="452.58" cy="83.39" r="1.1" fill="#80cbec" />
<circle cx="430.36" cy="95.93" r="1.1" fill="#80cbec" />
<circle cx="421.14" cy="96.06" r="1.1" fill="#80cbec" />
<circle cx="446.28" cy="88.07" r="1.1" fill="#80cbec" />
<circle cx="429.95" cy="94.96" r="1.1" fill="#80cbec" />
<circle cx="437.64" cy="90.37" r="1.1" fill="#80cbec" />
<circle cx="438.41" cy="86.05" r="1.1" fill="#80cbec" />
<circle cx="424.64" cy="91.10" r="1.1" fill="#80cbec" />
<circle cx="427.70" cy="95.73" r="1.1" fill="#80cbec" />
<circle cx="450.17" cy="92.64" r="1.1" fill="#80cbec" />
<circle cx="452.18" cy="83.84" r="1.1" fill="#80cbec" />
<circle cx="447.00" cy="82.17" r="1.1" fill="#80cbec" />
<circle cx="430.20" cy="97.68" r="1.1" fill="#80cbec" />
<circle cx="424.49" cy="91.59" r="1.1" fill="#80cbec" />
<circle cx="441.51" cy="94.20" r="1.1" fill="#80cbec" />
<circle cx="453.64" cy="82.16" r="1.1" fill="#80cbec" />
<circle cx="435.77" cy="85.73" r="1.1" fill="#80cbec" />
<circle cx="442.51" cy="89.19" r="1.1" fill="#80cbec" />
<circle cx="456.04" cy="86.91" r="1.1" fill="#80cbec" />
<circle cx="420.73" cy="93.31" r="1.1" fill="#80cbec" />
<circle cx="424.54" cy="92.00" r="1.1" fill="#80cbec" />
<circle cx="438.73" cy="97.53" r="1.1" fill="#80cbec" />
<circle cx="440.70" cy="91.79" r="1.1" fill="#80cbec" />
<circle cx="429.03" cy="90.42" r="1.1" fill="#80cbec" />
<circle cx="428.67" cy="94.36" r="1.1" fill="#80cbec" />
<circle cx="447.97" cy="83.05" r="1.1" fill="#80cbec" />
<circle cx="447.03" cy="92.47" r="1.1" fill="#80cbec" />
<circle cx="421.91" cy="92.73" r="1.1" fill="#80cbec" />
<circle cx="442.26" cy="84.22" r="1.1" fill="#80cbec" />
<circle cx="453.58" cy="89.01" r="1.1" fill="#80cbec" />
<circle cx="431.43" cy="95.27" r="1.1" fill="#80cbec" />
<circle cx="419.68" cy="93.86" r="1.1" fill="#80cbec" />
<circle cx="456.58" cy="92.99" r="1.1" fill="#80cbec" />
<circle cx="451.32" cy="82.27" r="1.1" fill="#80cbec" />
<circle cx="443.49" cy="86.52" r="1.1" fill="#80cbec" />
<circle cx="443.05" cy="86.40" r="1.1" fill="#80cbec" />
<circle cx="451.74" cy="92.33" r="1.1" fill="#80cbec" />
<circle cx="450.68" cy="88.08" r="1.1" fill="#80cbec" />
<circle cx="452.56" cy="89.75" r="1.1" fill="#80cbec" />
<circle cx="442.21" cy="90.85" r="1.1" fill="#80cbec" />
<circle cx="448.11" cy="87.33" r="1.1" fill="#80cbec" />
<circle cx="454.07" cy="89.02" r="1.1" fill="#80cbec" />
<circle cx="437.31" cy="97.12" r="1.1" fill="#80cbec" />
<circle cx="443.28" cy="87.99" r="1.1" fill="#80cbec" />
<circle cx="433.49" cy="87.14" r="1.1" fill="#80cbec" />
<circle cx="453.71" cy="82.51" r="1.1" fill="#80cbec" />
<circle cx="427.91" cy="89.04" r="1.1" fill="#80cbec" />
<circle cx="419.78" cy="97.81" r="1.1" fill="#80cbec" />
<circle cx="433.26" cy="98.07" r="1.1" fill="#80cbec" />
<circle cx="446.01" cy="92.84" r="1.1" fill="#80cbec" />
<circle cx="437.37" cy="98.22" r="1.1" fill="#80cbec" />
<circle cx="423.22" cy="92.74" r="1.1" fill="#80cbec" />
<circle cx="430.14" cy="92.85" r="1.1" fill="#80cbec" />
<circle cx="447.67" cy="82.73" r="1.1" fill="#80cbec" />
<circle cx="437.22" cy="85.11" r="1.1" fill="#80cbec" />
<circle cx="447.79" cy="93.71" r="1.1" fill="#80cbec" />
<circle cx="445.39" cy="98.12" r="1.1" fill="#80cbec" />
<circle cx="444.33" cy="88.03" r="1.1" fill="#80cbec" />
<circle cx="420.93" cy="94.93" r="1.1" fill="#80cbec" />
<circle cx="439.26" cy="86.43" r="1.1" fill="#80cbec" />
<circle cx="454.45" cy="89.22" r="1.1" fill="#80cbec" />
<circle cx="428.72" cy="87.57" r="1.1" fill="#80cbec" />
<circle cx="425.68" cy="89.57" r="1.1" fill="#80cbec" />
<circle cx="434.59" cy="90.02" r="1.1" fill="#80cbec" />
<circle cx="455.35" cy="91.35" r="1.1" fill="#80cbec" />
<circle cx="452.77" cy="83.75" r="1.1" fill="#80cbec" />
<circle cx="437.96" cy="90.81" r="1.1" fill="#80cbec" />
<circle cx="433.57" cy="91.88" r="1.1" fill="#80cbec" />
<circle cx="447.53" cy="97.58" r="1.1" fill="#80cbec" />
<circle cx="430.80" cy="88.39" r="1.1" fill="#80cbec" />
<circle cx="451.56" cy="83.93" r="1.1" fill="#80cbec" />
<circle cx="422.01" cy="94.79" r="1.1" fill="#80cbec" />
<circle cx="451.28" cy="85.69" r="1.1" fill="#80cbec" />
<circle cx="435.65" cy="90.92" r="1.1" fill="#80cbec" />
<circle cx="435.32" cy="85.72" r="1.1" fill="#80cbec" />
<circle cx="448.59" cy="90.51" r="1.1" fill="#80cbec" />
<circle cx="454.34" cy="92.45" r="1.1" fill="#80cbec" />
<circle cx="448.89" cy="90.88" r="1.1" fill="#80cbec" />
<circle cx="436.19" cy="95.67" r="1.1" fill="#80cbec" />
<circle cx="447.62" cy="93.38" r="1.1" fill="#80cbec" />
<circle cx="429.21" cy="95.58" r="1.1" fill="#80cbec" />
<circle cx="429.00" cy="92.88" r="1.1" fill="#80cbec" />
<circle cx="449.05" cy="90.53" r="1.1" fill="#80cbec" />
<circle cx="452.89" cy="98.29" r="1.1" fill="#80cbec" />
<circle cx="442.98" cy="84.08" r="1.1" fill="#80cbec" />
<circle cx="435.66" cy="86.68" r="1.1" fill="#80cbec" />
<circle cx="441.88" cy="95.87" r="1.1" fill="#80cbec" />
<circle cx="446.88" cy="88.34" r="1.1" fill="#80cbec" />
<circle cx="456.04" cy="95.24" r="1.1" fill="#80cbec" />
<circle cx="455.10" cy="88.63" r="1.1" fill="#80cbec" />
<circle cx="435.87" cy="88.24" r="1.1" fill="#80cbec" />
<circle cx="402.50" cy="14.50" r="1.05" fill="#79c6e8" />
<circle cx="403.00" cy="64.50" r="1.05" fill="#79c6e8" />
<circle cx="448.50" cy="58.30" r="1.05" fill="#79c6e8" />
<circle cx="436.00" cy="68.00" r="1.05" fill="#79c6e8" />
<circle cx="429.00" cy="71.00" r="1.05" fill="#79c6e8" />
<circle cx="433.00" cy="79.00" r="1.05" fill="#79c6e8" />
<circle cx="451.00" cy="81.00" r="1.05" fill="#79c6e8" />
<circle cx="423.00" cy="84.00" r="1.05" fill="#79c6e8" />
<circle cx="428.00" cy="85.00" r="1.05" fill="#79c6e8" />
<circle cx="436.00" cy="82.00" r="1.05" fill="#79c6e8" />
<circle cx="425.00" cy="90.50" r="1.05" fill="#79c6e8" />
<circle cx="417.00" cy="92.00" r="1.05" fill="#79c6e8" />
<circle cx="416.00" cy="96.00" r="1.05" fill="#79c6e8" />
<circle cx="459.00" cy="95.00" r="1.05" fill="#79c6e8" />
<circle cx="454.00" cy="89.00" r="1.05" fill="#79c6e8" />
<circle cx="475.33" cy="93.23" r="1.1" fill="#e84a28" />
<circle cx="469.49" cy="98.17" r="1.1" fill="#e84a28" />
<circle cx="476.98" cy="95.67" r="1.1" fill="#e84a28" />
<circle cx="479.66" cy="94.02" r="1.1" fill="#e84a28" />
<circle cx="471.28" cy="90.61" r="1.1" fill="#e84a28" />
<circle cx="477.63" cy="97.24" r="1.1" fill="#e84a28" />
<circle cx="473.91" cy="96.96" r="1.1" fill="#e84a28" />
<circle cx="479.14" cy="96.76" r="1.1" fill="#e84a28" />
<circle cx="471.80" cy="91.60" r="1.1" fill="#e84a28" />
<circle cx="472.06" cy="97.60" r="1.1" fill="#e84a28" />
<circle cx="470.59" cy="98.36" r="1.1" fill="#e84a28" />
<circle cx="473.82" cy="94.42" r="1.1" fill="#e84a28" />
<circle cx="477.42" cy="98.45" r="1.1" fill="#e84a28" />
<circle cx="468.50" cy="94.90" r="1.1" fill="#e84a28" />
<circle cx="474.56" cy="93.48" r="1.1" fill="#e84a28" />
<circle cx="471.26" cy="95.61" r="1.1" fill="#e84a28" />
<circle cx="479.13" cy="95.40" r="1.1" fill="#e84a28" />
<circle cx="473.25" cy="98.14" r="1.1" fill="#e84a28" />
<circle cx="477.51" cy="94.01" r="1.1" fill="#e84a28" />
<circle cx="474.99" cy="92.75" r="1.1" fill="#e84a28" />
<circle cx="468.60" cy="95.80" r="1.1" fill="#e84a28" />
<circle cx="468.86" cy="97.34" r="1.1" fill="#e84a28" />
<circle cx="481.54" cy="94.47" r="1.1" fill="#e84a28" />
<circle cx="474.22" cy="93.23" r="1.1" fill="#e84a28" />
<circle cx="470.75" cy="93.39" r="1.1" fill="#e84a28" />
<circle cx="468.56" cy="95.06" r="1.1" fill="#e84a28" />
<circle cx="475.13" cy="96.54" r="1.1" fill="#e84a28" />
<circle cx="479.88" cy="97.22" r="1.1" fill="#e84a28" />
<circle cx="475.22" cy="95.09" r="1.1" fill="#e84a28" />
<circle cx="483.00" cy="94.94" r="1.1" fill="#e84a28" />
<circle cx="476.42" cy="94.87" r="1.1" fill="#e84a28" />
<circle cx="478.57" cy="94.92" r="1.1" fill="#e84a28" />
<circle cx="472.41" cy="96.75" r="1.1" fill="#e84a28" />
<circle cx="479.59" cy="94.04" r="1.1" fill="#e84a28" />
<circle cx="475.82" cy="95.87" r="1.1" fill="#e84a28" />
<circle cx="473.72" cy="98.29" r="1.1" fill="#e84a28" />
<circle cx="471.16" cy="97.73" r="1.1" fill="#e84a28" />
<circle cx="480.13" cy="95.75" r="1.1" fill="#e84a28" />
<circle cx="477.75" cy="95.63" r="1.1" fill="#e84a28" />
<circle cx="475.46" cy="94.86" r="1.1" fill="#e84a28" />
<circle cx="473.01" cy="97.33" r="1.1" fill="#e84a28" />
<circle cx="468.91" cy="92.99" r="1.1" fill="#e84a28" />
<circle cx="471.16" cy="97.30" r="1.1" fill="#e84a28" />
<circle cx="470.46" cy="91.71" r="1.1" fill="#e84a28" />
<circle cx="473.70" cy="96.91" r="1.1" fill="#e84a28" />
<circle cx="475.42" cy="94.72" r="1.1" fill="#e84a28" />
<circle cx="473.65" cy="95.85" r="1.1" fill="#e84a28" />
<circle cx="471.25" cy="92.06" r="1.1" fill="#e84a28" />
<circle cx="471.52" cy="98.02" r="1.1" fill="#e84a28" />
<circle cx="472.40" cy="97.50" r="1.1" fill="#e84a28" />
<circle cx="472.72" cy="91.97" r="1.1" fill="#e84a28" />
<circle cx="477.88" cy="94.42" r="1.1" fill="#e84a28" />
<circle cx="473.24" cy="97.87" r="1.1" fill="#e84a28" />
<circle cx="471.97" cy="94.12" r="1.1" fill="#e84a28" />
<circle cx="477.99" cy="95.18" r="1.1" fill="#e84a28" />
<circle cx="474.24" cy="92.75" r="1.1" fill="#e84a28" />
<circle cx="470.07" cy="94.94" r="1.1" fill="#e84a28" />
<circle cx="470.39" cy="96.62" r="1.1" fill="#e84a28" />
<circle cx="475.05" cy="95.57" r="1.1" fill="#e84a28" />
<circle cx="480.71" cy="98.34" r="1.1" fill="#e84a28" />
<circle cx="475.47" cy="98.17" r="1.1" fill="#e84a28" />
<circle cx="472.83" cy="97.84" r="1.1" fill="#e84a28" />
<circle cx="469.43" cy="96.40" r="1.1" fill="#e84a28" />
<circle cx="473.46" cy="92.20" r="1.1" fill="#e84a28" />
<circle cx="472.77" cy="93.35" r="1.1" fill="#e84a28" />
<circle cx="470.28" cy="95.63" r="1.1" fill="#e84a28" />
<circle cx="482.63" cy="95.21" r="1.1" fill="#e84a28" />
<circle cx="482.58" cy="96.27" r="1.1" fill="#e84a28" />
<circle cx="483.35" cy="97.05" r="1.1" fill="#e84a28" />
<circle cx="471.91" cy="90.94" r="1.1" fill="#e84a28" />
<circle cx="475.13" cy="96.30" r="1.1" fill="#e84a28" />
<circle cx="471.18" cy="92.81" r="1.1" fill="#e84a28" />
<circle cx="477.82" cy="94.95" r="1.1" fill="#e84a28" />
<circle cx="470.36" cy="97.29" r="1.1" fill="#e84a28" />
<circle cx="470.90" cy="91.53" r="1.1" fill="#e84a28" />
<circle cx="475.34" cy="95.82" r="1.1" fill="#e84a28" />
<circle cx="468.53" cy="93.05" r="1.1" fill="#e84a28" />
<circle cx="482.99" cy="97.17" r="1.1" fill="#e84a28" />
<circle cx="476.72" cy="96.20" r="1.1" fill="#e84a28" />
<circle cx="469.34" cy="92.48" r="1.1" fill="#e84a28" />
<circle cx="479.01" cy="94.73" r="1.1" fill="#e84a28" />
<circle cx="477.46" cy="97.95" r="1.1" fill="#e84a28" />
<circle cx="469.74" cy="93.29" r="1.1" fill="#e84a28" />
<circle cx="472.14" cy="94.32" r="1.1" fill="#e84a28" />
<circle cx="470.26" cy="97.98" r="1.1" fill="#e84a28" />
<circle cx="471.57" cy="95.63" r="1.1" fill="#e84a28" />
<circle cx="472.61" cy="98.02" r="1.1" fill="#e84a28" />
<circle cx="472.59" cy="91.76" r="1.1" fill="#e84a28" />
<circle cx="470.21" cy="95.86" r="1.1" fill="#e84a28" />
<circle cx="483.47" cy="95.03" r="1.1" fill="#e84a28" />
<circle cx="477.04" cy="96.55" r="1.1" fill="#e84a28" />
<circle cx="468.36" cy="96.56" r="1.1" fill="#e84a28" />
<circle cx="476.15" cy="97.96" r="1.1" fill="#e84a28" />
<circle cx="473.55" cy="96.12" r="1.1" fill="#e84a28" />
<circle cx="476.28" cy="98.44" r="1.1" fill="#e84a28" />
<circle cx="472.63" cy="94.07" r="1.1" fill="#e84a28" />
<circle cx="472.18" cy="97.48" r="1.1" fill="#e84a28" />
<circle cx="476.59" cy="96.98" r="1.1" fill="#e84a28" />
<circle cx="468.87" cy="98.30" r="1.1" fill="#e84a28" />
<circle cx="481.78" cy="96.30" r="1.1" fill="#e84a28" />
<circle cx="471.01" cy="92.10" r="1.1" fill="#e84a28" />
<circle cx="478.67" cy="97.49" r="1.1" fill="#e84a28" />
<circle cx="478.60" cy="93.73" r="1.1" fill="#e84a28" />
<circle cx="470.35" cy="98.32" r="1.1" fill="#e84a28" />
<circle cx="476.48" cy="96.13" r="1.1" fill="#e84a28" />
<circle cx="469.59" cy="96.95" r="1.1" fill="#e84a28" />
<circle cx="475.51" cy="96.03" r="1.1" fill="#e84a28" />
<circle cx="475.54" cy="97.02" r="1.1" fill="#e84a28" />
<circle cx="479.26" cy="97.23" r="1.1" fill="#e84a28" />
<circle cx="475.34" cy="95.40" r="1.1" fill="#e84a28" />
<circle cx="473.60" cy="71.10" r="1.25" fill="#d83c2e" />
<circle cx="473.30" cy="76.50" r="1.25" fill="#2e9a5a" />
<circle cx="474.00" cy="82.70" r="1.25" fill="#e8742d" />
<circle cx="477.00" cy="90.30" r="1.25" fill="#d83c2e" />
<circle cx="505.00" cy="94.60" r="1.25" fill="#d83c2e" />
<circle cx="511.00" cy="97.60" r="1.25" fill="#c8402f" />
<circle cx="518.00" cy="96.90" r="1.25" fill="#d83c2e" />
<circle cx="524.50" cy="90.20" r="1.25" fill="#d83c2e" />
<circle cx="470.00" cy="87.00" r="1.25" fill="#d83c2e" />
<circle cx="469.00" cy="90.00" r="1.25" fill="#e84a28" />
<text x="399.50" y="15.20" font-size="4.3" text-anchor="start" font-weight="normal" fill="#3a3a3a" >Gm4712</text>
<text x="403.00" y="63.30" font-size="4.3" text-anchor="start" font-weight="normal" fill="#3a3a3a" >Ccn6</text>
<text x="440.00" y="63.30" font-size="4.3" text-anchor="start" font-weight="normal" fill="#3a3a3a" >Ismtdcp</text>
<text x="436.00" y="67.20" font-size="4.3" text-anchor="start" font-weight="normal" fill="#3a3a3a" >Kit10</text>
<text x="415.00" y="74.00" font-size="4.3" text-anchor="start" font-weight="normal" fill="#3a3a3a" >Dapbo</text>
<text x="426.00" y="78.00" font-size="4.3" text-anchor="start" font-weight="normal" fill="#3a3a3a" >Zfp819</text>
<text x="449.00" y="80.50" font-size="4.3" text-anchor="start" font-weight="normal" fill="#3a3a3a" >Prmpo</text>
<text x="414.00" y="83.70" font-size="4.3" text-anchor="start" font-weight="normal" fill="#3a3a3a" >Dkrag1</text>
<text x="427.00" y="88.70" font-size="4.3" text-anchor="start" font-weight="normal" fill="#3a3a3a" >Scarf</text>
<text x="437.00" y="84.70" font-size="4.3" text-anchor="start" font-weight="normal" fill="#3a3a3a" >Slc</text>
<text x="457.00" y="86.50" font-size="4.3" text-anchor="start" font-weight="normal" fill="#3a3a3a" >Tsp</text>
<text x="414.00" y="93.20" font-size="4.3" text-anchor="start" font-weight="normal" fill="#3a3a3a" >Sstn</text>
<text x="421.00" y="101.50" font-size="4.3" text-anchor="start" font-weight="normal" fill="#3a3a3a" >Tgfgr</text>
<text x="470.50" y="70.00" font-size="4.3" text-anchor="start" font-weight="normal" fill="#3a3a3a" >Lrrn2</text>
<text x="476.00" y="77.50" font-size="4.3" text-anchor="start" font-weight="normal" fill="#3a3a3a" >Ftl1</text>
<text x="468.00" y="83.50" font-size="4.3" text-anchor="start" font-weight="normal" fill="#3a3a3a" >Tcx</text>
<text x="471.00" y="88.00" font-size="4.3" text-anchor="start" font-weight="normal" fill="#3a3a3a" >Cnd3</text>
<text x="469.00" y="90.00" font-size="4.3" text-anchor="start" font-weight="normal" fill="#3a3a3a" >Nrd</text>
<text x="479.00" y="92.00" font-size="4.3" text-anchor="start" font-weight="normal" fill="#3a3a3a" >Oxg</text>
<text x="499.50" y="93.00" font-size="4.3" text-anchor="start" font-weight="normal" fill="#3a3a3a" >Fgf2</text>
<text x="503.00" y="103.00" font-size="4.3" text-anchor="start" font-weight="normal" fill="#3a3a3a" >Tyro</text>
<text x="516.00" y="99.00" font-size="4.3" text-anchor="start" font-weight="normal" fill="#3a3a3a" >Sp2</text>
<text x="518.00" y="89.00" font-size="4.3" text-anchor="start" font-weight="normal" fill="#3a3a3a" >Acrv</text>
<line x1="463.30" y1="10.50" x2="463.30" y2="115.80" stroke="#6a6a6a" stroke-width="1.2" stroke-dasharray="3.2,2"/>
<line x1="396.50" y1="98.30" x2="530.60" y2="98.30" stroke="#666" stroke-width="1.0" stroke-dasharray="3.6,2.2"/>
<rect x="396.50" y="10.50" width="134.10" height="105.30" fill="none" stroke="#6a6a6a" stroke-width="0.9" />
<line x1="394.00" y1="110.80" x2="396.50" y2="110.80" stroke="#444" stroke-width="0.8" />
<text x="392.00" y="113.00" font-size="6.3" text-anchor="end" font-weight="normal" fill="#777" >0</text>
<line x1="394.00" y1="85.55" x2="396.50" y2="85.55" stroke="#444" stroke-width="0.8" />
<text x="392.00" y="87.75" font-size="6.3" text-anchor="end" font-weight="normal" fill="#777" >2.5</text>
<line x1="394.00" y1="60.30" x2="396.50" y2="60.30" stroke="#444" stroke-width="0.8" />
<text x="392.00" y="62.50" font-size="6.3" text-anchor="end" font-weight="normal" fill="#777" >5.0</text>
<line x1="394.00" y1="35.05" x2="396.50" y2="35.05" stroke="#444" stroke-width="0.8" />
<text x="392.00" y="37.25" font-size="6.3" text-anchor="end" font-weight="normal" fill="#777" >7.5</text>
<line x1="427.30" y1="115.80" x2="427.30" y2="118.30" stroke="#444" stroke-width="0.8" />
<text x="427.30" y="128.30" font-size="7.8" text-anchor="middle" font-weight="normal" fill="#666" >−4</text>
<line x1="463.30" y1="115.80" x2="463.30" y2="118.30" stroke="#444" stroke-width="0.8" />
<text x="463.30" y="128.30" font-size="7.8" text-anchor="middle" font-weight="normal" fill="#666" >0</text>
<line x1="499.30" y1="115.80" x2="499.30" y2="118.30" stroke="#444" stroke-width="0.8" />
<text x="499.30" y="128.30" font-size="7.8" text-anchor="middle" font-weight="normal" fill="#666" >4</text>
<text x="463.3" y="140.6" font-size="9.3" text-anchor="middle" fill="#333">log<tspan font-size="5.5" dy="2.2">2</tspan><tspan dy="-2.2"> fold change</tspan></text>
<text x="377" y="63" font-size="8.9" text-anchor="middle" fill="#222" stroke="#222" stroke-width="0.2" transform="rotate(-90 377 63)">−log<tspan font-size="5.5" dy="2.2">10</tspan><tspan dy="-2.2"> </tspan><tspan font-style="italic">P</tspan> value (adjusted)</text>
<circle cx="534.20" cy="17.00" r="1.3" fill="#c4c4c4" />
<text x="538.70" y="19.20" font-size="7.4" text-anchor="start" font-weight="normal" fill="#333" >Detected</text>
<circle cx="534.20" cy="25.20" r="1.3" fill="#d2452c" />
<text x="538.70" y="27.40" font-size="7.4" text-anchor="start" font-weight="normal" fill="#333" >Upregulated</text>
<circle cx="534.20" cy="33.40" r="1.3" fill="#7cc6e6" />
<text x="538.70" y="35.60" font-size="7.4" text-anchor="start" font-weight="normal" fill="#333" >Downregulated</text>
<text x="604.20" y="10.50" font-size="15" text-anchor="start" font-weight="bold" fill="#111" stroke="#111" stroke-width="0.45">b</text>
<text x="701.70" y="36.10" font-size="9.05" text-anchor="middle" font-weight="normal" fill="#2b2b2b" >GO biological process</text>
<line x1="722.40" y1="43.00" x2="722.40" y2="116.60" stroke="#444" stroke-width="0.8" />
<line x1="722.40" y1="116.60" x2="795.70" y2="116.60" stroke="#444" stroke-width="0.8" />
<rect x="722.40" y="48.20" width="65.64" height="8.20" fill="#fad0b4" stroke="#4a3d38" stroke-width="0.9" />
<line x1="719.90" y1="52.40" x2="722.40" y2="52.40" stroke="#444" stroke-width="0.8" />
<text x="717.40" y="55.00" font-size="7.35" text-anchor="end" font-weight="normal" fill="#333" >Carbohydrate metabolic process</text>
<text x="791.04" y="54.80" font-size="8.3" text-anchor="start" font-weight="bold" fill="#222" >48</text>
<rect x="722.40" y="62.00" width="52.22" height="8.20" fill="#fad0b4" stroke="#4a3d38" stroke-width="0.9" />
<line x1="719.90" y1="66.20" x2="722.40" y2="66.20" stroke="#444" stroke-width="0.8" />
<text x="717.40" y="68.80" font-size="7.35" text-anchor="end" font-weight="normal" fill="#333" >Regulation of synapse structure or activity</text>
<text x="777.62" y="68.60" font-size="8.3" text-anchor="start" font-weight="bold" fill="#222" >34</text>
<rect x="722.40" y="75.80" width="44.41" height="8.20" fill="#fad0b4" stroke="#4a3d38" stroke-width="0.9" />
<line x1="719.90" y1="80.00" x2="722.40" y2="80.00" stroke="#444" stroke-width="0.8" />
<text x="717.40" y="82.60" font-size="7.35" text-anchor="end" font-weight="normal" fill="#333" >Regulation of synapse organization</text>
<text x="769.81" y="82.40" font-size="8.3" text-anchor="start" font-weight="bold" fill="#222" >32</text>
<rect x="722.40" y="89.60" width="35.62" height="8.20" fill="#fad0b4" stroke="#4a3d38" stroke-width="0.9" />
<line x1="719.90" y1="93.80" x2="722.40" y2="93.80" stroke="#444" stroke-width="0.8" />
<text x="717.40" y="96.40" font-size="7.35" text-anchor="end" font-weight="normal" fill="#333" >Axonogenesis</text>
<text x="761.02" y="96.20" font-size="8.3" text-anchor="start" font-weight="bold" fill="#222" >39</text>
<rect x="722.40" y="103.40" width="31.48" height="8.20" fill="#fad0b4" stroke="#4a3d38" stroke-width="0.9" />
<line x1="719.90" y1="107.60" x2="722.40" y2="107.60" stroke="#444" stroke-width="0.8" />
<text x="717.40" y="110.20" font-size="7.35" text-anchor="end" font-weight="normal" fill="#333" >Regulation of synapse assembly</text>
<text x="756.88" y="110.00" font-size="8.3" text-anchor="start" font-weight="bold" fill="#222" >18</text>
<line x1="722.40" y1="116.60" x2="722.40" y2="119.00" stroke="#444" stroke-width="0.8" />
<text x="722.40" y="128.00" font-size="7.8" text-anchor="middle" font-weight="normal" fill="#444" >0</text>
<line x1="746.80" y1="116.60" x2="746.80" y2="119.00" stroke="#444" stroke-width="0.8" />
<text x="746.80" y="128.00" font-size="7.8" text-anchor="middle" font-weight="normal" fill="#444" >1</text>
<line x1="771.20" y1="116.60" x2="771.20" y2="119.00" stroke="#444" stroke-width="0.8" />
<text x="771.20" y="128.00" font-size="7.8" text-anchor="middle" font-weight="normal" fill="#444" >2</text>
<line x1="795.60" y1="116.60" x2="795.60" y2="119.00" stroke="#444" stroke-width="0.8" />
<text x="795.60" y="128.00" font-size="7.8" text-anchor="middle" font-weight="normal" fill="#444" >3</text>
<text x="759" y="141" font-size="8.8" text-anchor="middle" fill="#333">−log<tspan font-size="5.5" dy="2.2">10</tspan><tspan dy="-2.2">(FDR)</tspan></text>
<text x="0.50" y="158.30" font-size="14.5" text-anchor="start" font-weight="bold" fill="#111" stroke="#111" stroke-width="0.45">c</text>
<text x="0.50" y="170.20" font-size="7.3" text-anchor="start" font-weight="normal" fill="#2b2b2b" >Young</text>
<text x="28.00" y="170.20" font-size="7.3" text-anchor="start" font-weight="normal" fill="#2b2b2b" >Aged</text>
<path d="M13.5,201 C12.5,206 13,211 15,214.5" fill="none" stroke="#777" stroke-width="1.1" />
<path d="M31.5,202 C30.5,208 32,214 34,217.5" fill="none" stroke="#888" stroke-width="1.1" />
<path d="M10.5,181 L15,180.2 L16,182.5 L17.8,184.5 L18.6,187 L18.8,193 L18.6,198 L17,200.5 L13.5,201.4 L10.5,200.2 L9.3,197 L9.3,188 L10,184 Z" fill="#1f1f1f" stroke="#222" stroke-width="0.6" />
<ellipse cx="10.2" cy="180.6" rx="1.4" ry="1.0" fill="#1a1a1a"/>
<ellipse cx="15.0" cy="179.6" rx="1.4" ry="1.0" fill="#1a1a1a"/>
<path d="M27.5,176.8 L34.5,175.6 L35,178 L36.5,181 L37.8,184 L38,193 L37.8,198 L36.5,201 L32,202.2 L28.5,201.2 L26.5,197 L26.5,185 L27.5,180 Z" fill="#8c8c8c" stroke="#333" stroke-width="0.6" />
<ellipse cx="27.3" cy="176.4" rx="1.6" ry="1.1" fill="#2a2a2a"/>
<ellipse cx="34.3" cy="175.0" rx="1.6" ry="1.1" fill="#2a2a2a"/>
<text x="19.80" y="205.50" font-size="8.6" text-anchor="start" font-weight="normal" fill="#2b2b2b" >or</text>
<path d="M58,184.8 C50,184.3 43.5,186.5 42.6,194 C42,199 43.5,204 47,206 C50,207.2 53,206.2 55,204.5 L58,206.3 L61,204.5 C63,206.2 66,207.2 69,206 C72.5,204 74,199 73.4,194 C72.5,186.5 66,184.3 58,184.8 Z" fill="#fbe3c6" stroke="#c08a5e" stroke-width="0.7" />
<path d="M46.2,194 C46.5,191.5 50,190.8 58,191.5 C66,190.8 69.5,191.5 69.8,194 C70.5,198 69.8,202 68,203.6 C66.2,204.6 63.5,204 61.2,202.4 L58,204.6 L54.8,202.4 C52.5,204 49.8,204.6 48,203.6 C46.2,202 45.5,198 46.2,194 Z" fill="#fff" stroke="#c9a080" stroke-width="0.5" />
<path d="M48.5,191.8 C50.5,188.3 55,188 58,190.6 C61,188 65.5,188.3 67.5,191.8" fill="none" stroke="#8a6a55" stroke-width="0.9" />
<path d="M50.5,191.6 C52.5,189.8 55.5,189.8 57.3,191.3 M58.7,191.3 C60.5,189.8 63.5,189.8 65.5,191.6" fill="none" stroke="#b89a80" stroke-width="0.6" />
<line x1="58.00" y1="198.00" x2="58.00" y2="204.50" stroke="#999" stroke-width="0.5" />
<text x="59.30" y="215.80" font-size="7.3" text-anchor="middle" font-weight="normal" fill="#2b2b2b" >Isolate cortex</text>
<text x="59.30" y="224.00" font-size="7.3" text-anchor="middle" font-weight="normal" fill="#2b2b2b" >and</text>
<text x="59.30" y="232.30" font-size="7.3" text-anchor="middle" font-weight="normal" fill="#2b2b2b" >hippocampus</text>
<text x="95.00" y="167.40" font-size="7.3" text-anchor="middle" font-weight="normal" fill="#2b2b2b" >Homogenize</text>
<text x="95.00" y="175.60" font-size="6" text-anchor="middle" font-weight="normal" fill="#2b2b2b" >+</text>
<text x="70.2" y="183.7" font-size="7.3" fill="#2b2b2b">1,000<tspan font-style="italic">g</tspan></text>
<text x="117.50" y="183.70" font-size="7.3" text-anchor="end" font-weight="normal" fill="#2b2b2b" >10 min</text>
<text x="95.00" y="192.40" font-size="7.3" text-anchor="middle" font-weight="normal" fill="#2b2b2b" >Centrifugation</text>
<line x1="80.00" y1="198.50" x2="112.00" y2="198.50" stroke="#333" stroke-width="0.9" />
<path d="M115.00,198.50 L111.00,196.70 L111.00,200.30 Z" fill="#333" stroke="none" stroke-width="0.8" />
<path d="M118.5,177.5 L118.5,205 C118.5,208.5 121,210.5 124,210.5 C127,210.5 129.5,208.5 129.5,205 L129.5,177.5" fill="#fff" stroke="#555" stroke-width="0.7" />
<line x1="118.50" y1="179.80" x2="129.50" y2="179.80" stroke="#999" stroke-width="0.7" />
<line x1="118.50" y1="190.20" x2="129.50" y2="190.20" stroke="#bbb" stroke-width="0.7" />
<rect x="118.80" y="199.60" width="10.40" height="1.80" fill="#b7b84a" stroke="none" stroke-width="0.8" />
<text x="146.00" y="183.00" font-size="7.3" text-anchor="middle" font-weight="normal" fill="#2b2b2b" >Synaptic</text>
<text x="146.00" y="191.90" font-size="7.3" text-anchor="middle" font-weight="normal" fill="#2b2b2b" >fraction</text>
<text x="146.50" y="200.20" font-size="7.3" text-anchor="middle" font-weight="normal" fill="#2b2b2b" >(S.F.)</text>
<text x="180.00" y="183.00" font-size="7.3" text-anchor="middle" font-weight="normal" fill="#2b2b2b" >Trypsin</text>
<text x="180.00" y="191.90" font-size="7.3" text-anchor="middle" font-weight="normal" fill="#2b2b2b" >digestion</text>
<line x1="158.00" y1="195.50" x2="206.00" y2="195.50" stroke="#333" stroke-width="0.9" />
<path d="M209.00,195.50 L205.00,193.70 L205.00,197.30 Z" fill="#333" stroke="none" stroke-width="0.8" />
<line x1="178.70" y1="195.50" x2="178.70" y2="206.50" stroke="#333" stroke-width="0.9" />
<path d="M178.70,209.50 L176.90,205.50 L180.50,205.50 Z" fill="#333" stroke="none" stroke-width="0.8" />
<text x="178.50" y="217.40" font-size="7.3" text-anchor="middle" font-weight="normal" fill="#2b2b2b" >S.F. N/M</text>
<rect x="164.00" y="220.80" width="26.70" height="7.20" fill="#dcdcdc" stroke="none" stroke-width="0.8" />
<rect x="164.00" y="228.60" width="26.70" height="8.10" fill="#dcdcdc" stroke="none" stroke-width="0.8" />
<rect x="164.00" y="238.20" width="26.70" height="11.30" fill="#dcdcdc" stroke="none" stroke-width="0.8" />
<rect x="164.00" y="250.90" width="26.70" height="8.30" fill="#dcdcdc" stroke="none" stroke-width="0.8" />
<rect x="178.00" y="222.20" width="11.50" height="4.20" fill="#6e6e6e" stroke="none" stroke-width="0" rx="2" ry="2" opacity="0.85"/>
<rect x="178.00" y="230.20" width="12.00" height="5.00" fill="#111" stroke="none" stroke-width="0" rx="2" ry="2" opacity="1"/>
<rect x="165.00" y="240.00" width="11.80" height="7.00" fill="#9a9a9a" stroke="none" stroke-width="0" rx="2" ry="2" opacity="0.7"/>
<rect x="178.20" y="240.00" width="11.80" height="7.00" fill="#9a9a9a" stroke="none" stroke-width="0" rx="2" ry="2" opacity="0.7"/>
<rect x="165.00" y="252.40" width="11.80" height="5.60" fill="#2e2e2e" stroke="none" stroke-width="0" rx="2" ry="2" opacity="1"/>
<rect x="178.20" y="252.40" width="11.80" height="5.60" fill="#2e2e2e" stroke="none" stroke-width="0" rx="2" ry="2" opacity="1"/>
<line x1="177.30" y1="220.80" x2="177.30" y2="259.30" stroke="#f0f0f0" stroke-width="0.6" />
<text x="161.00" y="226.60" font-size="7.3" text-anchor="end" font-weight="normal" fill="#2b2b2b" >Lamin B</text>
<text x="161.00" y="235.40" font-size="7.3" text-anchor="end" font-weight="normal" fill="#2b2b2b" >HH3</text>
<text x="161.00" y="246.30" font-size="7.3" text-anchor="end" font-weight="normal" fill="#2b2b2b" >PSD-95</text>
<text x="161.00" y="257.30" font-size="7.3" text-anchor="end" font-weight="normal" fill="#2b2b2b" >Syn-1</text>
<path d="M226.40,180.00 c1.30,-2.2 3.00,-2.3 4.50,0.6 c1.50,2.9 3.20,3.4 4.50,1.8" fill="none" stroke="#1a1a1a" stroke-width="1.35" stroke-linecap="round"/>
<path d="M218.40,184.70 c1.30,-2.2 3.00,-2.3 4.50,0.6 c1.50,2.9 3.20,3.4 4.50,1.8" fill="none" stroke="#1a1a1a" stroke-width="1.35" stroke-linecap="round"/>
<path d="M214.50,188.30 c1.30,-2.2 3.00,-2.3 4.50,0.6 c1.50,2.9 3.20,3.4 4.50,1.8" fill="none" stroke="#1a1a1a" stroke-width="1.35" stroke-linecap="round"/>
<path d="M227.30,188.00 c1.30,-2.2 3.00,-2.3 4.50,0.6 c1.50,2.9 3.20,3.4 4.50,1.8" fill="none" stroke="#1a1a1a" stroke-width="1.35" stroke-linecap="round"/>
<path d="M239.50,186.80 c1.30,-2.2 3.00,-2.3 4.50,0.6 c1.50,2.9 3.20,3.4 4.50,1.8" fill="none" stroke="#1a1a1a" stroke-width="1.35" stroke-linecap="round"/>
<path d="M215.00,193.10 c1.30,-2.2 3.00,-2.3 4.50,0.6 c1.50,2.9 3.20,3.4 4.50,1.8" fill="none" stroke="#1a1a1a" stroke-width="1.35" stroke-linecap="round"/>
<path d="M229.70,192.80 c1.30,-2.2 3.00,-2.3 4.50,0.6 c1.50,2.9 3.20,3.4 4.50,1.8" fill="none" stroke="#1a1a1a" stroke-width="1.35" stroke-linecap="round"/>
<path d="M225.20,195.50 c1.30,-2.2 3.00,-2.3 4.50,0.6 c1.50,2.9 3.20,3.4 4.50,1.8" fill="none" stroke="#1a1a1a" stroke-width="1.35" stroke-linecap="round"/>
<path d="M239.80,196.40 c1.30,-2.2 3.00,-2.3 4.50,0.6 c1.50,2.9 3.20,3.4 4.50,1.8" fill="none" stroke="#1a1a1a" stroke-width="1.35" stroke-linecap="round"/>
<text x="240.00" y="207.80" font-size="7.3" text-anchor="middle" font-weight="normal" fill="#2b2b2b" >Digested peptides for MS</text>
<text x="266.50" y="183.00" font-size="7.3" text-anchor="middle" font-weight="normal" fill="#2b2b2b" >Isobaric</text>
<text x="266.50" y="191.20" font-size="7.3" text-anchor="middle" font-weight="normal" fill="#2b2b2b" >tagging</text>
<line x1="251.00" y1="196.40" x2="279.00" y2="196.40" stroke="#333" stroke-width="0.9" />
<path d="M282.00,196.40 L278.00,194.60 L278.00,198.20 Z" fill="#333" stroke="none" stroke-width="0.8" />
<path d="M286.50,197.40 c1.23,-2.2 2.83,-2.3 4.25,0.6 c1.42,2.9 3.02,3.4 4.25,1.8" fill="none" stroke="#1a1a1a" stroke-width="1.35" stroke-linecap="round"/>
<circle cx="295.40" cy="197.50" r="2.3" fill="#3aa0d0" />
<path d="M293.50,191.70 c1.23,-2.2 2.83,-2.3 4.25,0.6 c1.42,2.9 3.02,3.4 4.25,1.8" fill="none" stroke="#1a1a1a" stroke-width="1.35" stroke-linecap="round"/>
<circle cx="302.50" cy="191.40" r="2.3" fill="#e8c440" />
<path d="M298.30,185.90 c1.23,-2.2 2.83,-2.3 4.25,0.6 c1.42,2.9 3.02,3.4 4.25,1.8" fill="none" stroke="#1a1a1a" stroke-width="1.35" stroke-linecap="round"/>
<circle cx="306.60" cy="185.70" r="2.3" fill="#5d7cae" />
<path d="M303.70,200.60 c1.23,-2.2 2.83,-2.3 4.25,0.6 c1.42,2.9 3.02,3.4 4.25,1.8" fill="none" stroke="#1a1a1a" stroke-width="1.35" stroke-linecap="round"/>
<circle cx="312.70" cy="201.00" r="2.3" fill="#2a9e68" />
<path d="M310.50,195.20 c1.23,-2.2 2.83,-2.3 4.25,0.6 c1.42,2.9 3.02,3.4 4.25,1.8" fill="none" stroke="#1a1a1a" stroke-width="1.35" stroke-linecap="round"/>
<circle cx="319.10" cy="195.00" r="2.3" fill="#e0879a" />
<path d="M315.20,189.50 c1.23,-2.2 2.83,-2.3 4.25,0.6 c1.42,2.9 3.02,3.4 4.25,1.8" fill="none" stroke="#1a1a1a" stroke-width="1.35" stroke-linecap="round"/>
<circle cx="324.20" cy="188.90" r="2.3" fill="#e8804a" />
<text x="342.00" y="193.20" font-size="7.3" text-anchor="middle" font-weight="normal" fill="#2b2b2b" >MS/MS</text>
<line x1="325.00" y1="197.00" x2="356.00" y2="197.00" stroke="#333" stroke-width="0.9" />
<path d="M359.00,197.00 L355.00,195.20 L355.00,198.80 Z" fill="#333" stroke="none" stroke-width="0.8" />
<path d="M447.5,284 L443.5,278 L441,268 L439.5,255 L439.5,240 L440.5,228 L443,216 L445.5,208 L448.5,204.5 L452,207 L454.5,214 L456,205 L458,198.5 L461.5,199.5 L464.5,206 L466.5,215 L468.5,228 L469.8,245 L469.2,258 L467,270 L464.5,279 L462.5,284 Z" fill="#c0c0c0" stroke="none" stroke-width="0.8" />
<circle cx="443.83" cy="257.85" r="1.1" fill="#c0c0c0" />
<circle cx="459.01" cy="239.42" r="1.1" fill="#c0c0c0" />
<circle cx="445.48" cy="266.86" r="1.1" fill="#c0c0c0" />
<circle cx="464.59" cy="242.34" r="1.1" fill="#c0c0c0" />
<circle cx="454.81" cy="218.15" r="1.1" fill="#c0c0c0" />
<circle cx="457.41" cy="203.56" r="1.1" fill="#c0c0c0" />
<circle cx="464.14" cy="217.82" r="1.1" fill="#c0c0c0" />
<circle cx="466.76" cy="251.39" r="1.1" fill="#c0c0c0" />
<circle cx="443.50" cy="269.03" r="1.1" fill="#c0c0c0" />
<circle cx="453.14" cy="245.80" r="1.1" fill="#c0c0c0" />
<circle cx="449.58" cy="239.91" r="1.1" fill="#c0c0c0" />
<circle cx="466.47" cy="218.05" r="1.1" fill="#c0c0c0" />
<circle cx="463.70" cy="215.75" r="1.1" fill="#c0c0c0" />
<circle cx="462.88" cy="264.24" r="1.1" fill="#c0c0c0" />
<circle cx="457.26" cy="261.35" r="1.1" fill="#c0c0c0" />
<circle cx="442.46" cy="239.18" r="1.1" fill="#c0c0c0" />
<circle cx="465.21" cy="215.09" r="1.1" fill="#c0c0c0" />
<circle cx="451.73" cy="229.46" r="1.1" fill="#c0c0c0" />
<circle cx="453.08" cy="231.26" r="1.1" fill="#c0c0c0" />
<circle cx="454.52" cy="240.51" r="1.1" fill="#c0c0c0" />
<circle cx="456.28" cy="262.97" r="1.1" fill="#c0c0c0" />
<circle cx="445.67" cy="250.78" r="1.1" fill="#c0c0c0" />
<circle cx="456.47" cy="251.98" r="1.1" fill="#c0c0c0" />
<circle cx="444.34" cy="212.38" r="1.1" fill="#c0c0c0" />
<circle cx="449.75" cy="278.62" r="1.1" fill="#c0c0c0" />
<circle cx="449.70" cy="249.76" r="1.1" fill="#c0c0c0" />
<circle cx="448.40" cy="206.54" r="1.1" fill="#c0c0c0" />
<circle cx="463.60" cy="230.30" r="1.1" fill="#c0c0c0" />
<circle cx="460.57" cy="256.64" r="1.1" fill="#c0c0c0" />
<circle cx="469.55" cy="249.17" r="1.1" fill="#c0c0c0" />
<circle cx="467.03" cy="240.45" r="1.1" fill="#c0c0c0" />
<circle cx="450.63" cy="219.13" r="1.1" fill="#c0c0c0" />
<circle cx="463.50" cy="239.78" r="1.1" fill="#c0c0c0" />
<circle cx="446.83" cy="222.86" r="1.1" fill="#c0c0c0" />
<circle cx="452.05" cy="212.43" r="1.1" fill="#c0c0c0" />
<circle cx="440.74" cy="227.08" r="1.1" fill="#c0c0c0" />
<circle cx="462.59" cy="239.41" r="1.1" fill="#c0c0c0" />
<circle cx="446.65" cy="281.40" r="1.1" fill="#c0c0c0" />
<circle cx="455.48" cy="261.25" r="1.1" fill="#c0c0c0" />
<circle cx="465.58" cy="267.08" r="1.1" fill="#c0c0c0" />
<circle cx="466.97" cy="250.12" r="1.1" fill="#c0c0c0" />
<circle cx="452.26" cy="248.35" r="1.1" fill="#c0c0c0" />
<circle cx="465.93" cy="224.45" r="1.1" fill="#c0c0c0" />
<circle cx="455.76" cy="221.65" r="1.1" fill="#c0c0c0" />
<circle cx="460.64" cy="280.97" r="1.1" fill="#c0c0c0" />
<circle cx="459.30" cy="272.02" r="1.1" fill="#c0c0c0" />
<circle cx="457.37" cy="220.00" r="1.1" fill="#c0c0c0" />
<circle cx="451.60" cy="281.39" r="1.1" fill="#c0c0c0" />
<circle cx="443.05" cy="273.39" r="1.1" fill="#c0c0c0" />
<circle cx="459.67" cy="208.57" r="1.1" fill="#c0c0c0" />
<circle cx="455.90" cy="225.87" r="1.1" fill="#c0c0c0" />
<circle cx="454.45" cy="216.72" r="1.1" fill="#c0c0c0" />
<circle cx="443.86" cy="213.60" r="1.1" fill="#c0c0c0" />
<circle cx="450.70" cy="259.62" r="1.1" fill="#c0c0c0" />
<circle cx="461.46" cy="273.96" r="1.1" fill="#c0c0c0" />
<circle cx="463.51" cy="266.69" r="1.1" fill="#c0c0c0" />
<circle cx="444.16" cy="259.76" r="1.1" fill="#c0c0c0" />
<circle cx="446.67" cy="258.46" r="1.1" fill="#c0c0c0" />
<circle cx="451.06" cy="224.57" r="1.1" fill="#c0c0c0" />
<circle cx="467.59" cy="223.31" r="1.1" fill="#c0c0c0" />
<circle cx="454.75" cy="245.57" r="1.1" fill="#c0c0c0" />
<circle cx="457.92" cy="241.97" r="1.1" fill="#c0c0c0" />
<circle cx="462.23" cy="282.12" r="1.1" fill="#c0c0c0" />
<circle cx="448.52" cy="258.70" r="1.1" fill="#c0c0c0" />
<circle cx="455.48" cy="246.56" r="1.1" fill="#c0c0c0" />
<circle cx="463.05" cy="236.71" r="1.1" fill="#c0c0c0" />
<circle cx="458.57" cy="199.23" r="1.1" fill="#c0c0c0" />
<circle cx="459.32" cy="236.23" r="1.1" fill="#c0c0c0" />
<circle cx="455.21" cy="231.57" r="1.1" fill="#c0c0c0" />
<circle cx="451.47" cy="217.23" r="1.1" fill="#c0c0c0" />
<circle cx="440.08" cy="235.47" r="1.1" fill="#c0c0c0" />
<circle cx="446.48" cy="259.12" r="1.1" fill="#c0c0c0" />
<circle cx="464.90" cy="260.83" r="1.1" fill="#c0c0c0" />
<circle cx="453.23" cy="218.19" r="1.1" fill="#c0c0c0" />
<circle cx="450.95" cy="240.09" r="1.1" fill="#c0c0c0" />
<circle cx="458.91" cy="281.77" r="1.1" fill="#c0c0c0" />
<circle cx="441.26" cy="239.47" r="1.1" fill="#c0c0c0" />
<circle cx="454.39" cy="260.25" r="1.1" fill="#c0c0c0" />
<circle cx="467.26" cy="265.71" r="1.1" fill="#c0c0c0" />
<circle cx="458.75" cy="263.87" r="1.1" fill="#c0c0c0" />
<circle cx="460.08" cy="272.65" r="1.1" fill="#c0c0c0" />
<circle cx="461.08" cy="257.26" r="1.1" fill="#c0c0c0" />
<circle cx="446.42" cy="277.71" r="1.1" fill="#c0c0c0" />
<circle cx="450.97" cy="251.29" r="1.1" fill="#c0c0c0" />
<circle cx="448.60" cy="224.78" r="1.1" fill="#c0c0c0" />
<circle cx="451.14" cy="210.22" r="1.1" fill="#c0c0c0" />
<circle cx="456.37" cy="204.46" r="1.1" fill="#c0c0c0" />
<circle cx="448.27" cy="280.06" r="1.1" fill="#c0c0c0" />
<circle cx="462.48" cy="237.96" r="1.1" fill="#c0c0c0" />
<circle cx="461.24" cy="215.51" r="1.1" fill="#c0c0c0" />
<circle cx="449.33" cy="253.64" r="1.1" fill="#c0c0c0" />
<circle cx="460.52" cy="220.33" r="1.1" fill="#c0c0c0" />
<circle cx="446.71" cy="271.47" r="1.1" fill="#c0c0c0" />
<circle cx="443.46" cy="257.10" r="1.1" fill="#c0c0c0" />
<circle cx="444.96" cy="249.82" r="1.1" fill="#c0c0c0" />
<circle cx="447.46" cy="230.66" r="1.1" fill="#c0c0c0" />
<circle cx="468.89" cy="238.36" r="1.1" fill="#c0c0c0" />
<circle cx="452.61" cy="251.50" r="1.1" fill="#c0c0c0" />
<circle cx="447.56" cy="212.76" r="1.1" fill="#c0c0c0" />
<circle cx="450.92" cy="221.34" r="1.1" fill="#c0c0c0" />
<circle cx="468.69" cy="259.15" r="1.1" fill="#c0c0c0" />
<circle cx="439.77" cy="250.69" r="1.1" fill="#c0c0c0" />
<circle cx="461.12" cy="218.52" r="1.1" fill="#c0c0c0" />
<circle cx="441.55" cy="224.53" r="1.1" fill="#c0c0c0" />
<circle cx="453.17" cy="275.76" r="1.1" fill="#c0c0c0" />
<circle cx="450.45" cy="209.31" r="1.1" fill="#c0c0c0" />
<circle cx="464.07" cy="269.46" r="1.1" fill="#c0c0c0" />
<circle cx="444.56" cy="232.76" r="1.1" fill="#c0c0c0" />
<circle cx="456.33" cy="217.20" r="1.1" fill="#c0c0c0" />
<circle cx="464.42" cy="271.31" r="1.1" fill="#c0c0c0" />
<circle cx="462.63" cy="263.94" r="1.1" fill="#c0c0c0" />
<circle cx="464.83" cy="250.57" r="1.1" fill="#c0c0c0" />
<circle cx="458.54" cy="238.72" r="1.1" fill="#c0c0c0" />
<circle cx="464.34" cy="227.07" r="1.1" fill="#c0c0c0" />
<circle cx="447.21" cy="228.40" r="1.1" fill="#c0c0c0" />
<circle cx="448.13" cy="252.37" r="1.1" fill="#c0c0c0" />
<circle cx="440.68" cy="242.28" r="1.1" fill="#c0c0c0" />
<circle cx="460.40" cy="214.11" r="1.1" fill="#c0c0c0" />
<circle cx="439.70" cy="240.82" r="1.1" fill="#c0c0c0" />
<circle cx="460.49" cy="254.65" r="1.1" fill="#c0c0c0" />
<circle cx="468.57" cy="244.62" r="1.1" fill="#c0c0c0" />
<circle cx="451.69" cy="257.95" r="1.1" fill="#c0c0c0" />
<circle cx="462.01" cy="243.40" r="1.1" fill="#c0c0c0" />
<circle cx="449.88" cy="244.10" r="1.1" fill="#c0c0c0" />
<circle cx="458.79" cy="212.73" r="1.1" fill="#c0c0c0" />
<circle cx="461.42" cy="240.71" r="1.1" fill="#c0c0c0" />
<circle cx="443.73" cy="271.96" r="1.1" fill="#c0c0c0" />
<circle cx="464.56" cy="276.81" r="1.1" fill="#c0c0c0" />
<circle cx="460.45" cy="216.51" r="1.1" fill="#c0c0c0" />
<circle cx="463.62" cy="276.49" r="1.1" fill="#c0c0c0" />
<circle cx="455.72" cy="276.99" r="1.1" fill="#c0c0c0" />
<circle cx="449.87" cy="251.19" r="1.1" fill="#c0c0c0" />
<circle cx="458.11" cy="263.62" r="1.1" fill="#c0c0c0" />
<circle cx="459.39" cy="211.63" r="1.1" fill="#c0c0c0" />
<circle cx="468.56" cy="244.42" r="1.1" fill="#c0c0c0" />
<circle cx="463.55" cy="262.25" r="1.1" fill="#c0c0c0" />
<circle cx="467.01" cy="229.21" r="1.1" fill="#c0c0c0" />
<circle cx="441.17" cy="232.99" r="1.1" fill="#c0c0c0" />
<circle cx="444.26" cy="244.74" r="1.1" fill="#c0c0c0" />
<circle cx="464.82" cy="229.19" r="1.1" fill="#c0c0c0" />
<circle cx="452.16" cy="248.29" r="1.1" fill="#c0c0c0" />
<circle cx="468.46" cy="243.27" r="1.1" fill="#c0c0c0" />
<circle cx="467.41" cy="242.47" r="1.1" fill="#c0c0c0" />
<circle cx="452.20" cy="253.58" r="1.1" fill="#c0c0c0" />
<circle cx="463.40" cy="263.25" r="1.1" fill="#c0c0c0" />
<circle cx="459.52" cy="219.63" r="1.1" fill="#c0c0c0" />
<circle cx="452.39" cy="230.58" r="1.1" fill="#c0c0c0" />
<circle cx="454.31" cy="220.73" r="1.1" fill="#c0c0c0" />
<circle cx="455.87" cy="237.64" r="1.1" fill="#c0c0c0" />
<circle cx="457.44" cy="267.74" r="1.1" fill="#c0c0c0" />
<circle cx="462.29" cy="261.45" r="1.1" fill="#c0c0c0" />
<circle cx="459.96" cy="248.38" r="1.1" fill="#c0c0c0" />
<circle cx="444.86" cy="217.39" r="1.1" fill="#c0c0c0" />
<circle cx="462.21" cy="268.58" r="1.1" fill="#c0c0c0" />
<circle cx="450.46" cy="269.81" r="1.1" fill="#c0c0c0" />
<circle cx="454.64" cy="237.88" r="1.1" fill="#c0c0c0" />
<circle cx="451.08" cy="252.49" r="1.1" fill="#c0c0c0" />
<circle cx="457.83" cy="258.14" r="1.1" fill="#c0c0c0" />
<circle cx="466.45" cy="263.24" r="1.1" fill="#c0c0c0" />
<circle cx="450.61" cy="219.41" r="1.1" fill="#c0c0c0" />
<circle cx="463.76" cy="266.88" r="1.1" fill="#c0c0c0" />
<circle cx="458.97" cy="210.29" r="1.1" fill="#c0c0c0" />
<circle cx="465.35" cy="220.67" r="1.1" fill="#c0c0c0" />
<circle cx="460.54" cy="223.38" r="1.1" fill="#c0c0c0" />
<circle cx="445.55" cy="215.61" r="1.1" fill="#c0c0c0" />
<circle cx="454.57" cy="259.89" r="1.1" fill="#c0c0c0" />
<circle cx="445.54" cy="257.56" r="1.1" fill="#c0c0c0" />
<circle cx="449.32" cy="254.31" r="1.1" fill="#c0c0c0" />
<circle cx="450.39" cy="214.41" r="1.1" fill="#c0c0c0" />
<circle cx="460.99" cy="233.70" r="1.1" fill="#c0c0c0" />
<circle cx="459.65" cy="199.35" r="1.1" fill="#c0c0c0" />
<circle cx="461.91" cy="249.53" r="1.1" fill="#c0c0c0" />
<circle cx="452.83" cy="241.30" r="1.1" fill="#c0c0c0" />
<circle cx="459.05" cy="253.13" r="1.1" fill="#c0c0c0" />
<circle cx="450.31" cy="227.81" r="1.1" fill="#c0c0c0" />
<circle cx="462.89" cy="253.13" r="1.1" fill="#c0c0c0" />
<circle cx="453.26" cy="242.46" r="1.1" fill="#c0c0c0" />
<circle cx="445.72" cy="266.57" r="1.1" fill="#c0c0c0" />
<circle cx="453.19" cy="216.87" r="1.1" fill="#c0c0c0" />
<circle cx="457.45" cy="248.52" r="1.1" fill="#c0c0c0" />
<circle cx="441.30" cy="240.38" r="1.1" fill="#c0c0c0" />
<circle cx="443.83" cy="267.42" r="1.1" fill="#c0c0c0" />
<circle cx="449.06" cy="226.23" r="1.1" fill="#c0c0c0" />
<circle cx="458.66" cy="271.64" r="1.1" fill="#c0c0c0" />
<circle cx="455.76" cy="207.62" r="1.1" fill="#c0c0c0" />
<circle cx="451.59" cy="264.08" r="1.1" fill="#c0c0c0" />
<circle cx="445.06" cy="258.72" r="1.1" fill="#c0c0c0" />
<circle cx="446.33" cy="249.95" r="1.1" fill="#c0c0c0" />
<circle cx="457.13" cy="269.08" r="1.1" fill="#c0c0c0" />
<circle cx="455.31" cy="255.56" r="1.1" fill="#c0c0c0" />
<circle cx="448.78" cy="277.42" r="1.1" fill="#c0c0c0" />
<circle cx="450.05" cy="266.17" r="1.1" fill="#c0c0c0" />
<circle cx="439.61" cy="241.11" r="1.1" fill="#c0c0c0" />
<circle cx="467.29" cy="264.99" r="1.1" fill="#c0c0c0" />
<circle cx="457.22" cy="213.44" r="1.1" fill="#c0c0c0" />
<circle cx="461.75" cy="243.93" r="1.1" fill="#c0c0c0" />
<circle cx="443.80" cy="227.33" r="1.1" fill="#c0c0c0" />
<circle cx="459.95" cy="254.90" r="1.1" fill="#c0c0c0" />
<circle cx="451.07" cy="267.61" r="1.1" fill="#c0c0c0" />
<circle cx="441.42" cy="225.92" r="1.1" fill="#c0c0c0" />
<circle cx="464.11" cy="263.43" r="1.1" fill="#c0c0c0" />
<circle cx="443.32" cy="224.48" r="1.1" fill="#c0c0c0" />
<circle cx="442.12" cy="255.42" r="1.1" fill="#c0c0c0" />
<circle cx="452.80" cy="217.76" r="1.1" fill="#c0c0c0" />
<circle cx="450.59" cy="273.21" r="1.1" fill="#c0c0c0" />
<circle cx="452.23" cy="257.95" r="1.1" fill="#c0c0c0" />
<circle cx="458.77" cy="238.94" r="1.1" fill="#c0c0c0" />
<circle cx="456.47" cy="229.33" r="1.1" fill="#c0c0c0" />
<circle cx="444.91" cy="240.76" r="1.1" fill="#c0c0c0" />
<circle cx="448.34" cy="226.38" r="1.1" fill="#c0c0c0" />
<circle cx="444.53" cy="277.42" r="1.1" fill="#c0c0c0" />
<circle cx="452.24" cy="215.02" r="1.1" fill="#c0c0c0" />
<circle cx="466.55" cy="226.98" r="1.1" fill="#c0c0c0" />
<circle cx="460.05" cy="217.67" r="1.1" fill="#c0c0c0" />
<circle cx="459.51" cy="236.90" r="1.1" fill="#c0c0c0" />
<circle cx="462.29" cy="243.74" r="1.1" fill="#c0c0c0" />
<circle cx="450.62" cy="222.01" r="1.1" fill="#c0c0c0" />
<circle cx="457.69" cy="270.29" r="1.1" fill="#c0c0c0" />
<circle cx="460.84" cy="239.51" r="1.1" fill="#c0c0c0" />
<circle cx="449.11" cy="275.50" r="1.1" fill="#c0c0c0" />
<circle cx="460.44" cy="265.06" r="1.1" fill="#c0c0c0" />
<circle cx="460.33" cy="281.88" r="1.1" fill="#c0c0c0" />
<circle cx="466.89" cy="219.03" r="1.1" fill="#c0c0c0" />
<circle cx="450.77" cy="282.93" r="1.1" fill="#c0c0c0" />
<circle cx="443.90" cy="232.10" r="1.1" fill="#c0c0c0" />
<circle cx="458.72" cy="221.38" r="1.1" fill="#c0c0c0" />
<circle cx="447.12" cy="266.99" r="1.1" fill="#c0c0c0" />
<circle cx="458.28" cy="262.59" r="1.1" fill="#c0c0c0" />
<circle cx="464.01" cy="273.81" r="1.1" fill="#c0c0c0" />
<circle cx="461.16" cy="242.46" r="1.1" fill="#c0c0c0" />
<circle cx="452.41" cy="255.60" r="1.1" fill="#c0c0c0" />
<circle cx="448.02" cy="208.83" r="1.1" fill="#c0c0c0" />
<circle cx="450.98" cy="209.48" r="1.1" fill="#c0c0c0" />
<circle cx="453.18" cy="264.29" r="1.1" fill="#c0c0c0" />
<circle cx="440.07" cy="253.21" r="1.1" fill="#c0c0c0" />
<circle cx="442.10" cy="242.16" r="1.1" fill="#c0c0c0" />
<circle cx="448.05" cy="236.52" r="1.1" fill="#c0c0c0" />
<circle cx="461.50" cy="233.67" r="1.1" fill="#c0c0c0" />
<circle cx="451.15" cy="261.25" r="1.1" fill="#c0c0c0" />
<circle cx="442.24" cy="228.03" r="1.1" fill="#c0c0c0" />
<circle cx="461.17" cy="270.56" r="1.1" fill="#c0c0c0" />
<circle cx="458.69" cy="224.85" r="1.1" fill="#c0c0c0" />
<circle cx="461.17" cy="271.54" r="1.1" fill="#c0c0c0" />
<circle cx="442.86" cy="227.69" r="1.1" fill="#c0c0c0" />
<circle cx="458.92" cy="269.12" r="1.1" fill="#c0c0c0" />
<circle cx="447.50" cy="266.05" r="1.1" fill="#c0c0c0" />
<circle cx="443.89" cy="227.76" r="1.1" fill="#c0c0c0" />
<circle cx="464.44" cy="212.68" r="1.1" fill="#c0c0c0" />
<circle cx="457.01" cy="245.99" r="1.1" fill="#c0c0c0" />
<circle cx="465.94" cy="271.61" r="1.1" fill="#c0c0c0" />
<circle cx="458.58" cy="212.28" r="1.1" fill="#c0c0c0" />
<circle cx="463.08" cy="206.03" r="1.1" fill="#c0c0c0" />
<circle cx="446.66" cy="216.45" r="1.1" fill="#c0c0c0" />
<circle cx="451.29" cy="266.76" r="1.1" fill="#c0c0c0" />
<circle cx="466.11" cy="262.78" r="1.1" fill="#c0c0c0" />
<circle cx="462.06" cy="218.86" r="1.1" fill="#c0c0c0" />
<circle cx="448.87" cy="224.12" r="1.1" fill="#c0c0c0" />
<circle cx="452.50" cy="274.02" r="1.1" fill="#c0c0c0" />
<circle cx="453.39" cy="258.12" r="1.1" fill="#c0c0c0" />
<circle cx="463.84" cy="213.85" r="1.1" fill="#c0c0c0" />
<circle cx="446.40" cy="277.78" r="1.05" fill="#c2c2c2" />
<circle cx="446.02" cy="282.92" r="1.05" fill="#c2c2c2" />
<circle cx="445.96" cy="281.30" r="1.05" fill="#c2c2c2" />
<circle cx="445.98" cy="282.42" r="1.05" fill="#c2c2c2" />
<circle cx="445.19" cy="278.56" r="1.05" fill="#c2c2c2" />
<circle cx="440.34" cy="273.66" r="1.05" fill="#c2c2c2" />
<circle cx="444.73" cy="275.03" r="1.05" fill="#c2c2c2" />
<circle cx="441.04" cy="270.94" r="1.05" fill="#c2c2c2" />
<circle cx="439.64" cy="269.57" r="1.05" fill="#c2c2c2" />
<circle cx="440.86" cy="273.67" r="1.05" fill="#c2c2c2" />
<circle cx="441.79" cy="264.49" r="1.05" fill="#c2c2c2" />
<circle cx="438.73" cy="258.08" r="1.05" fill="#c2c2c2" />
<circle cx="440.37" cy="260.22" r="1.05" fill="#c2c2c2" />
<circle cx="440.86" cy="263.19" r="1.05" fill="#c2c2c2" />
<circle cx="441.13" cy="266.68" r="1.05" fill="#c2c2c2" />
<circle cx="438.42" cy="263.60" r="1.05" fill="#c2c2c2" />
<circle cx="439.77" cy="264.30" r="1.05" fill="#c2c2c2" />
<circle cx="440.83" cy="262.79" r="1.05" fill="#c2c2c2" />
<circle cx="441.28" cy="252.21" r="1.05" fill="#c2c2c2" />
<circle cx="439.95" cy="243.74" r="1.05" fill="#c2c2c2" />
<circle cx="441.02" cy="246.16" r="1.05" fill="#c2c2c2" />
<circle cx="441.25" cy="243.18" r="1.05" fill="#c2c2c2" />
<circle cx="439.26" cy="254.27" r="1.05" fill="#c2c2c2" />
<circle cx="438.15" cy="240.37" r="1.05" fill="#c2c2c2" />
<circle cx="441.03" cy="242.53" r="1.05" fill="#c2c2c2" />
<circle cx="439.49" cy="239.25" r="1.05" fill="#c2c2c2" />
<circle cx="438.89" cy="240.84" r="1.05" fill="#c2c2c2" />
<circle cx="438.74" cy="239.23" r="1.05" fill="#c2c2c2" />
<circle cx="441.30" cy="228.58" r="1.05" fill="#c2c2c2" />
<circle cx="438.82" cy="238.65" r="1.05" fill="#c2c2c2" />
<circle cx="440.43" cy="232.77" r="1.05" fill="#c2c2c2" />
<circle cx="441.07" cy="234.31" r="1.05" fill="#c2c2c2" />
<circle cx="441.70" cy="234.74" r="1.05" fill="#c2c2c2" />
<circle cx="439.88" cy="228.30" r="1.05" fill="#c2c2c2" />
<circle cx="443.13" cy="218.43" r="1.05" fill="#c2c2c2" />
<circle cx="440.72" cy="226.12" r="1.05" fill="#c2c2c2" />
<circle cx="440.89" cy="218.30" r="1.05" fill="#c2c2c2" />
<circle cx="443.99" cy="218.97" r="1.05" fill="#c2c2c2" />
<circle cx="439.03" cy="223.32" r="1.05" fill="#c2c2c2" />
<circle cx="441.62" cy="224.90" r="1.05" fill="#c2c2c2" />
<circle cx="440.99" cy="221.07" r="1.05" fill="#c2c2c2" />
<circle cx="443.01" cy="211.71" r="1.05" fill="#c2c2c2" />
<circle cx="446.06" cy="210.28" r="1.05" fill="#c2c2c2" />
<circle cx="446.61" cy="211.28" r="1.05" fill="#c2c2c2" />
<circle cx="443.17" cy="213.81" r="1.05" fill="#c2c2c2" />
<circle cx="443.65" cy="212.60" r="1.05" fill="#c2c2c2" />
<circle cx="445.63" cy="205.74" r="1.05" fill="#c2c2c2" />
<circle cx="445.63" cy="205.69" r="1.05" fill="#c2c2c2" />
<circle cx="449.99" cy="204.99" r="1.05" fill="#c2c2c2" />
<circle cx="452.57" cy="205.80" r="1.05" fill="#c2c2c2" />
<circle cx="453.12" cy="211.23" r="1.05" fill="#c2c2c2" />
<circle cx="452.22" cy="209.88" r="1.05" fill="#c2c2c2" />
<circle cx="453.91" cy="208.89" r="1.05" fill="#c2c2c2" />
<circle cx="450.87" cy="210.60" r="1.05" fill="#c2c2c2" />
<circle cx="454.27" cy="209.45" r="1.05" fill="#c2c2c2" />
<circle cx="455.69" cy="211.87" r="1.05" fill="#c2c2c2" />
<circle cx="455.82" cy="210.68" r="1.05" fill="#c2c2c2" />
<circle cx="454.02" cy="213.12" r="1.05" fill="#c2c2c2" />
<circle cx="452.95" cy="209.61" r="1.05" fill="#c2c2c2" />
<circle cx="457.10" cy="202.71" r="1.05" fill="#c2c2c2" />
<circle cx="457.71" cy="198.39" r="1.05" fill="#c2c2c2" />
<circle cx="457.42" cy="200.69" r="1.05" fill="#c2c2c2" />
<circle cx="456.59" cy="203.68" r="1.05" fill="#c2c2c2" />
<circle cx="459.03" cy="200.16" r="1.05" fill="#c2c2c2" />
<circle cx="461.57" cy="199.84" r="1.05" fill="#c2c2c2" />
<circle cx="465.18" cy="206.15" r="1.05" fill="#c2c2c2" />
<circle cx="464.34" cy="205.61" r="1.05" fill="#c2c2c2" />
<circle cx="464.69" cy="204.72" r="1.05" fill="#c2c2c2" />
<circle cx="462.48" cy="201.29" r="1.05" fill="#c2c2c2" />
<circle cx="466.81" cy="211.71" r="1.05" fill="#c2c2c2" />
<circle cx="465.36" cy="211.80" r="1.05" fill="#c2c2c2" />
<circle cx="465.23" cy="206.30" r="1.05" fill="#c2c2c2" />
<circle cx="464.62" cy="211.11" r="1.05" fill="#c2c2c2" />
<circle cx="466.45" cy="209.97" r="1.05" fill="#c2c2c2" />
<circle cx="465.97" cy="218.36" r="1.05" fill="#c2c2c2" />
<circle cx="467.32" cy="228.96" r="1.05" fill="#c2c2c2" />
<circle cx="469.14" cy="227.70" r="1.05" fill="#c2c2c2" />
<circle cx="467.63" cy="218.08" r="1.05" fill="#c2c2c2" />
<circle cx="464.93" cy="216.50" r="1.05" fill="#c2c2c2" />
<circle cx="467.14" cy="224.71" r="1.05" fill="#c2c2c2" />
<circle cx="468.37" cy="220.60" r="1.05" fill="#c2c2c2" />
<circle cx="468.12" cy="219.36" r="1.05" fill="#c2c2c2" />
<circle cx="469.07" cy="235.91" r="1.05" fill="#c2c2c2" />
<circle cx="468.62" cy="239.61" r="1.05" fill="#c2c2c2" />
<circle cx="466.54" cy="240.77" r="1.05" fill="#c2c2c2" />
<circle cx="468.21" cy="236.38" r="1.05" fill="#c2c2c2" />
<circle cx="472.49" cy="236.96" r="1.05" fill="#c2c2c2" />
<circle cx="468.94" cy="239.39" r="1.05" fill="#c2c2c2" />
<circle cx="468.60" cy="242.90" r="1.05" fill="#c2c2c2" />
<circle cx="469.84" cy="229.18" r="1.05" fill="#c2c2c2" />
<circle cx="469.65" cy="243.00" r="1.05" fill="#c2c2c2" />
<circle cx="469.26" cy="239.97" r="1.05" fill="#c2c2c2" />
<circle cx="471.03" cy="253.35" r="1.05" fill="#c2c2c2" />
<circle cx="468.85" cy="251.55" r="1.05" fill="#c2c2c2" />
<circle cx="469.04" cy="245.97" r="1.05" fill="#c2c2c2" />
<circle cx="468.75" cy="254.63" r="1.05" fill="#c2c2c2" />
<circle cx="468.09" cy="253.99" r="1.05" fill="#c2c2c2" />
<circle cx="467.62" cy="249.83" r="1.05" fill="#c2c2c2" />
<circle cx="469.31" cy="249.63" r="1.05" fill="#c2c2c2" />
<circle cx="469.75" cy="251.29" r="1.05" fill="#c2c2c2" />
<circle cx="469.36" cy="269.80" r="1.05" fill="#c2c2c2" />
<circle cx="468.56" cy="264.50" r="1.05" fill="#c2c2c2" />
<circle cx="469.51" cy="265.79" r="1.05" fill="#c2c2c2" />
<circle cx="471.97" cy="258.09" r="1.05" fill="#c2c2c2" />
<circle cx="469.20" cy="258.97" r="1.05" fill="#c2c2c2" />
<circle cx="469.60" cy="257.44" r="1.05" fill="#c2c2c2" />
<circle cx="466.04" cy="268.60" r="1.05" fill="#c2c2c2" />
<circle cx="462.67" cy="271.07" r="1.05" fill="#c2c2c2" />
<circle cx="466.00" cy="275.35" r="1.05" fill="#c2c2c2" />
<circle cx="465.11" cy="276.23" r="1.05" fill="#c2c2c2" />
<circle cx="465.36" cy="278.01" r="1.05" fill="#c2c2c2" />
<circle cx="466.47" cy="270.08" r="1.05" fill="#c2c2c2" />
<circle cx="464.92" cy="283.88" r="1.05" fill="#c2c2c2" />
<circle cx="461.45" cy="282.25" r="1.05" fill="#c2c2c2" />
<circle cx="462.44" cy="282.58" r="1.05" fill="#c2c2c2" />
<circle cx="449.50" cy="285.05" r="1.05" fill="#c2c2c2" />
<circle cx="455.92" cy="283.41" r="1.05" fill="#c2c2c2" />
<circle cx="450.70" cy="284.44" r="1.05" fill="#c2c2c2" />
<circle cx="450.57" cy="282.78" r="1.05" fill="#c2c2c2" />
<circle cx="460.15" cy="282.32" r="1.05" fill="#c2c2c2" />
<circle cx="461.45" cy="285.02" r="1.05" fill="#c2c2c2" />
<circle cx="446.83" cy="283.31" r="1.05" fill="#c2c2c2" />
<circle cx="455.47" cy="282.87" r="1.05" fill="#c2c2c2" />
<circle cx="451.94" cy="282.72" r="1.05" fill="#c2c2c2" />
<circle cx="462.44" cy="186.58" r="1.05" fill="#c4c4c4" />
<circle cx="428.87" cy="230.91" r="1.05" fill="#c4c4c4" />
<circle cx="435.73" cy="232.44" r="1.05" fill="#c4c4c4" />
<circle cx="463.66" cy="197.74" r="1.05" fill="#c4c4c4" />
<circle cx="472.56" cy="231.79" r="1.05" fill="#c4c4c4" />
<circle cx="453.15" cy="205.94" r="1.05" fill="#c4c4c4" />
<circle cx="490.03" cy="237.33" r="1.05" fill="#c4c4c4" />
<circle cx="459.08" cy="187.16" r="1.05" fill="#c4c4c4" />
<circle cx="469.82" cy="219.66" r="1.05" fill="#c4c4c4" />
<circle cx="438.45" cy="205.59" r="1.05" fill="#c4c4c4" />
<circle cx="473.01" cy="214.04" r="1.05" fill="#c4c4c4" />
<circle cx="447.04" cy="190.90" r="1.05" fill="#c4c4c4" />
<circle cx="471.02" cy="211.84" r="1.05" fill="#c4c4c4" />
<circle cx="450.03" cy="191.47" r="1.05" fill="#c4c4c4" />
<circle cx="448.78" cy="197.81" r="1.05" fill="#c4c4c4" />
<circle cx="466.60" cy="187.48" r="1.05" fill="#c4c4c4" />
<circle cx="478.07" cy="216.69" r="1.05" fill="#c4c4c4" />
<circle cx="474.49" cy="225.76" r="1.05" fill="#c4c4c4" />
<circle cx="459.75" cy="191.52" r="1.05" fill="#c4c4c4" />
<circle cx="460.11" cy="195.57" r="1.05" fill="#c4c4c4" />
<circle cx="470.50" cy="188.80" r="1.05" fill="#c4c4c4" />
<circle cx="442.08" cy="218.42" r="1.05" fill="#c4c4c4" />
<circle cx="452.51" cy="187.00" r="1.05" fill="#c4c4c4" />
<circle cx="446.61" cy="194.37" r="1.05" fill="#c4c4c4" />
<circle cx="459.27" cy="195.66" r="1.05" fill="#c4c4c4" />
<circle cx="433.42" cy="239.76" r="1.05" fill="#c4c4c4" />
<circle cx="439.52" cy="198.06" r="1.05" fill="#c4c4c4" />
<circle cx="468.35" cy="195.84" r="1.05" fill="#c4c4c4" />
<circle cx="468.00" cy="200.81" r="1.05" fill="#c4c4c4" />
<circle cx="445.07" cy="186.46" r="1.05" fill="#c4c4c4" />
<circle cx="475.22" cy="239.05" r="1.05" fill="#c4c4c4" />
<circle cx="459.23" cy="196.95" r="1.05" fill="#c4c4c4" />
<circle cx="436.61" cy="248.10" r="1.05" fill="#c4c4c4" />
<circle cx="487.29" cy="233.71" r="1.05" fill="#c4c4c4" />
<circle cx="435.68" cy="203.85" r="1.05" fill="#c4c4c4" />
<circle cx="467.07" cy="191.91" r="1.05" fill="#c4c4c4" />
<circle cx="439.40" cy="205.55" r="1.05" fill="#c4c4c4" />
<circle cx="475.36" cy="221.26" r="1.05" fill="#c4c4c4" />
<circle cx="456.48" cy="201.01" r="1.05" fill="#c4c4c4" />
<circle cx="466.57" cy="210.51" r="1.05" fill="#c4c4c4" />
<circle cx="447.28" cy="188.26" r="1.05" fill="#c4c4c4" />
<circle cx="460.78" cy="195.36" r="1.05" fill="#c4c4c4" />
<circle cx="467.04" cy="196.72" r="1.05" fill="#c4c4c4" />
<circle cx="429.03" cy="222.28" r="1.05" fill="#c4c4c4" />
<circle cx="472.44" cy="202.54" r="1.05" fill="#c4c4c4" />
<circle cx="471.60" cy="200.10" r="1.05" fill="#c4c4c4" />
<circle cx="437.03" cy="220.51" r="1.05" fill="#c4c4c4" />
<circle cx="438.39" cy="201.08" r="1.05" fill="#c4c4c4" />
<circle cx="473.30" cy="200.26" r="1.05" fill="#c4c4c4" />
<circle cx="470.85" cy="188.08" r="1.05" fill="#c4c4c4" />
<circle cx="471.47" cy="225.53" r="1.05" fill="#c4c4c4" />
<circle cx="446.35" cy="193.50" r="1.05" fill="#c4c4c4" />
<circle cx="477.66" cy="230.59" r="1.05" fill="#c4c4c4" />
<circle cx="473.22" cy="219.05" r="1.05" fill="#c4c4c4" />
<circle cx="444.04" cy="196.77" r="1.05" fill="#c4c4c4" />
<circle cx="466.55" cy="190.63" r="1.05" fill="#c4c4c4" />
<circle cx="449.03" cy="200.30" r="1.05" fill="#c4c4c4" />
<circle cx="437.62" cy="197.04" r="1.05" fill="#c4c4c4" />
<circle cx="457.84" cy="193.25" r="1.05" fill="#c4c4c4" />
<circle cx="451.50" cy="189.68" r="1.05" fill="#c4c4c4" />
<circle cx="439.50" cy="226.96" r="1.05" fill="#c4c4c4" />
<circle cx="467.77" cy="200.49" r="1.05" fill="#c4c4c4" />
<circle cx="459.69" cy="187.82" r="1.05" fill="#c4c4c4" />
<circle cx="441.46" cy="208.03" r="1.05" fill="#c4c4c4" />
<circle cx="452.84" cy="195.59" r="1.05" fill="#c4c4c4" />
<circle cx="445.82" cy="189.93" r="1.05" fill="#c4c4c4" />
<circle cx="434.85" cy="211.05" r="1.05" fill="#c4c4c4" />
<circle cx="436.27" cy="204.35" r="1.05" fill="#c4c4c4" />
<circle cx="436.14" cy="196.37" r="1.05" fill="#c4c4c4" />
<circle cx="438.80" cy="203.92" r="1.05" fill="#c4c4c4" />
<circle cx="441.90" cy="273.31" r="1.05" fill="#c4c4c4" />
<circle cx="431.73" cy="260.36" r="1.05" fill="#c4c4c4" />
<circle cx="428.70" cy="258.10" r="1.05" fill="#c4c4c4" />
<circle cx="429.22" cy="256.90" r="1.05" fill="#c4c4c4" />
<circle cx="434.33" cy="274.98" r="1.05" fill="#c4c4c4" />
<circle cx="437.03" cy="275.65" r="1.05" fill="#c4c4c4" />
<circle cx="433.27" cy="268.47" r="1.05" fill="#c4c4c4" />
<circle cx="437.52" cy="266.84" r="1.05" fill="#c4c4c4" />
<circle cx="433.54" cy="259.28" r="1.05" fill="#c4c4c4" />
<circle cx="428.90" cy="250.95" r="1.05" fill="#c4c4c4" />
<circle cx="436.71" cy="267.09" r="1.05" fill="#c4c4c4" />
<circle cx="426.10" cy="255.29" r="1.05" fill="#c4c4c4" />
<circle cx="441.07" cy="277.77" r="1.05" fill="#c4c4c4" />
<circle cx="432.41" cy="264.52" r="1.05" fill="#c4c4c4" />
<circle cx="429.12" cy="264.21" r="1.05" fill="#c4c4c4" />
<circle cx="436.83" cy="277.35" r="1.05" fill="#c4c4c4" />
<circle cx="428.22" cy="269.05" r="1.05" fill="#c4c4c4" />
<circle cx="430.48" cy="264.47" r="1.05" fill="#c4c4c4" />
<circle cx="430.11" cy="265.41" r="1.05" fill="#c4c4c4" />
<circle cx="430.06" cy="261.95" r="1.05" fill="#c4c4c4" />
<circle cx="424.25" cy="257.16" r="1.05" fill="#c4c4c4" />
<circle cx="441.98" cy="281.74" r="1.05" fill="#c4c4c4" />
<circle cx="426.80" cy="263.27" r="1.05" fill="#c4c4c4" />
<circle cx="441.85" cy="281.65" r="1.05" fill="#c4c4c4" />
<circle cx="431.90" cy="267.05" r="1.05" fill="#c4c4c4" />
<circle cx="431.96" cy="265.43" r="1.05" fill="#c4c4c4" />
<circle cx="435.42" cy="271.01" r="1.05" fill="#c4c4c4" />
<circle cx="429.48" cy="268.20" r="1.05" fill="#c4c4c4" />
<circle cx="424.23" cy="256.95" r="1.05" fill="#c4c4c4" />
<circle cx="431.90" cy="262.99" r="1.05" fill="#c4c4c4" />
<circle cx="422.78" cy="254.25" r="1.05" fill="#c4c4c4" />
<circle cx="432.23" cy="269.63" r="1.05" fill="#c4c4c4" />
<circle cx="422.45" cy="254.94" r="1.05" fill="#c4c4c4" />
<circle cx="432.91" cy="273.57" r="1.05" fill="#c4c4c4" />
<circle cx="468.42" cy="257.27" r="1.05" fill="#c4c4c4" />
<circle cx="479.07" cy="263.07" r="1.05" fill="#c4c4c4" />
<circle cx="485.45" cy="272.80" r="1.05" fill="#c4c4c4" />
<circle cx="480.69" cy="262.89" r="1.05" fill="#c4c4c4" />
<circle cx="474.38" cy="257.73" r="1.05" fill="#c4c4c4" />
<circle cx="469.95" cy="257.31" r="1.05" fill="#c4c4c4" />
<circle cx="483.48" cy="274.34" r="1.05" fill="#c4c4c4" />
<circle cx="478.02" cy="262.57" r="1.05" fill="#c4c4c4" />
<circle cx="485.55" cy="270.40" r="1.05" fill="#c4c4c4" />
<circle cx="470.68" cy="248.95" r="1.05" fill="#c4c4c4" />
<circle cx="478.99" cy="273.16" r="1.05" fill="#c4c4c4" />
<circle cx="482.79" cy="267.93" r="1.05" fill="#c4c4c4" />
<circle cx="487.43" cy="274.40" r="1.05" fill="#c4c4c4" />
<circle cx="479.95" cy="264.04" r="1.05" fill="#c4c4c4" />
<circle cx="480.01" cy="272.03" r="1.05" fill="#c4c4c4" />
<circle cx="485.80" cy="271.99" r="1.05" fill="#c4c4c4" />
<circle cx="473.36" cy="264.25" r="1.05" fill="#c4c4c4" />
<circle cx="487.21" cy="271.93" r="1.05" fill="#c4c4c4" />
<circle cx="472.53" cy="267.19" r="1.05" fill="#c4c4c4" />
<circle cx="477.47" cy="265.49" r="1.05" fill="#c4c4c4" />
<circle cx="477.40" cy="260.53" r="1.05" fill="#c4c4c4" />
<circle cx="484.26" cy="268.36" r="1.05" fill="#c4c4c4" />
<circle cx="479.24" cy="268.36" r="1.05" fill="#c4c4c4" />
<circle cx="467.49" cy="250.30" r="1.05" fill="#c4c4c4" />
<circle cx="482.34" cy="269.04" r="1.05" fill="#c4c4c4" />
<circle cx="481.04" cy="270.88" r="1.05" fill="#c4c4c4" />
<circle cx="481.80" cy="274.36" r="1.05" fill="#c4c4c4" />
<circle cx="471.78" cy="255.54" r="1.05" fill="#c4c4c4" />
<circle cx="472.67" cy="257.85" r="1.05" fill="#c4c4c4" />
<circle cx="475.97" cy="256.89" r="1.05" fill="#c4c4c4" />
<circle cx="401.00" cy="268.00" r="1.05" fill="#c4c4c4" />
<circle cx="405.00" cy="262.00" r="1.05" fill="#c4c4c4" />
<circle cx="419.00" cy="262.00" r="1.05" fill="#c4c4c4" />
<circle cx="432.00" cy="261.00" r="1.05" fill="#c4c4c4" />
<circle cx="497.00" cy="254.00" r="1.05" fill="#c4c4c4" />
<circle cx="509.00" cy="254.00" r="1.05" fill="#c4c4c4" />
<circle cx="486.00" cy="260.00" r="1.05" fill="#c4c4c4" />
<circle cx="490.00" cy="266.00" r="1.05" fill="#c4c4c4" />
<circle cx="431.00" cy="185.60" r="1.15" fill="#86c9e6" />
<circle cx="430.00" cy="200.50" r="1.15" fill="#86c9e6" />
<circle cx="437.60" cy="209.00" r="1.15" fill="#86c9e6" />
<circle cx="438.00" cy="218.00" r="1.15" fill="#86c9e6" />
<circle cx="416.50" cy="234.00" r="1.15" fill="#86c9e6" />
<circle cx="430.00" cy="239.50" r="1.15" fill="#86c9e6" />
<circle cx="435.00" cy="225.00" r="1.15" fill="#86c9e6" />
<circle cx="438.00" cy="229.00" r="1.15" fill="#86c9e6" />
<circle cx="436.00" cy="234.00" r="1.15" fill="#86c9e6" />
<circle cx="437.00" cy="240.00" r="1.15" fill="#86c9e6" />
<circle cx="434.00" cy="244.00" r="1.15" fill="#86c9e6" />
<circle cx="433.00" cy="249.00" r="1.15" fill="#86c9e6" />
<circle cx="432.00" cy="252.00" r="1.15" fill="#86c9e6" />
<circle cx="434.00" cy="253.00" r="1.15" fill="#86c9e6" />
<circle cx="436.00" cy="256.00" r="1.15" fill="#86c9e6" />
<circle cx="440.00" cy="222.00" r="1.15" fill="#86c9e6" />
<circle cx="441.00" cy="236.00" r="1.15" fill="#86c9e6" />
<circle cx="439.00" cy="246.00" r="1.15" fill="#86c9e6" />
<circle cx="437.98" cy="241.92" r="1.1" fill="#86c9e6" />
<circle cx="441.44" cy="227.37" r="1.1" fill="#86c9e6" />
<circle cx="439.13" cy="252.52" r="1.1" fill="#86c9e6" />
<circle cx="442.72" cy="223.65" r="1.1" fill="#86c9e6" />
<circle cx="439.12" cy="241.30" r="1.1" fill="#86c9e6" />
<circle cx="437.05" cy="255.61" r="1.1" fill="#86c9e6" />
<circle cx="437.40" cy="234.26" r="1.1" fill="#86c9e6" />
<circle cx="438.51" cy="246.17" r="1.1" fill="#86c9e6" />
<circle cx="435.97" cy="250.71" r="1.1" fill="#86c9e6" />
<circle cx="439.54" cy="220.81" r="1.1" fill="#86c9e6" />
<circle cx="440.46" cy="238.95" r="1.1" fill="#86c9e6" />
<circle cx="439.15" cy="234.77" r="1.1" fill="#86c9e6" />
<circle cx="436.63" cy="230.68" r="1.1" fill="#86c9e6" />
<circle cx="437.55" cy="248.19" r="1.1" fill="#86c9e6" />
<circle cx="436.74" cy="231.55" r="1.1" fill="#86c9e6" />
<circle cx="440.93" cy="220.55" r="1.1" fill="#86c9e6" />
<circle cx="437.59" cy="234.19" r="1.1" fill="#86c9e6" />
<circle cx="434.41" cy="252.44" r="1.1" fill="#86c9e6" />
<circle cx="439.83" cy="222.69" r="1.1" fill="#86c9e6" />
<circle cx="436.93" cy="241.10" r="1.1" fill="#86c9e6" />
<circle cx="438.42" cy="245.91" r="1.1" fill="#86c9e6" />
<circle cx="436.48" cy="233.30" r="1.1" fill="#86c9e6" />
<circle cx="437.10" cy="226.68" r="1.1" fill="#86c9e6" />
<circle cx="435.56" cy="248.93" r="1.1" fill="#86c9e6" />
<circle cx="432.59" cy="245.18" r="1.1" fill="#86c9e6" />
<circle cx="438.71" cy="227.73" r="1.1" fill="#86c9e6" />
<circle cx="438.73" cy="247.19" r="1.1" fill="#86c9e6" />
<circle cx="436.08" cy="249.19" r="1.1" fill="#86c9e6" />
<circle cx="440.51" cy="240.05" r="1.1" fill="#86c9e6" />
<circle cx="437.16" cy="250.86" r="1.1" fill="#86c9e6" />
<circle cx="438.75" cy="245.57" r="1.1" fill="#86c9e6" />
<circle cx="433.78" cy="239.92" r="1.1" fill="#86c9e6" />
<circle cx="438.02" cy="224.14" r="1.1" fill="#86c9e6" />
<circle cx="432.64" cy="254.95" r="1.1" fill="#86c9e6" />
<circle cx="435.79" cy="253.58" r="1.1" fill="#86c9e6" />
<circle cx="441.39" cy="221.66" r="1.1" fill="#86c9e6" />
<circle cx="435.13" cy="248.77" r="1.1" fill="#86c9e6" />
<circle cx="440.37" cy="251.55" r="1.1" fill="#86c9e6" />
<circle cx="475.71" cy="240.82" r="1.05" fill="#c4c4c4" />
<circle cx="465.55" cy="202.53" r="1.05" fill="#c4c4c4" />
<circle cx="486.49" cy="204.15" r="1.05" fill="#c4c4c4" />
<circle cx="481.43" cy="225.00" r="1.05" fill="#c4c4c4" />
<circle cx="476.50" cy="261.76" r="1.05" fill="#c4c4c4" />
<circle cx="463.72" cy="196.36" r="1.05" fill="#c4c4c4" />
<circle cx="497.59" cy="222.00" r="1.05" fill="#c4c4c4" />
<circle cx="467.94" cy="217.13" r="1.05" fill="#c4c4c4" />
<circle cx="474.60" cy="258.99" r="1.05" fill="#c4c4c4" />
<circle cx="468.41" cy="209.53" r="1.05" fill="#c4c4c4" />
<circle cx="483.40" cy="231.67" r="1.05" fill="#c4c4c4" />
<circle cx="498.15" cy="251.19" r="1.05" fill="#c4c4c4" />
<circle cx="474.22" cy="208.66" r="1.05" fill="#c4c4c4" />
<circle cx="493.46" cy="261.26" r="1.05" fill="#c4c4c4" />
<circle cx="494.73" cy="238.63" r="1.05" fill="#c4c4c4" />
<circle cx="489.19" cy="207.99" r="1.05" fill="#c4c4c4" />
<circle cx="485.64" cy="209.69" r="1.05" fill="#c4c4c4" />
<circle cx="473.37" cy="221.54" r="1.05" fill="#c4c4c4" />
<circle cx="485.87" cy="251.02" r="1.05" fill="#c4c4c4" />
<circle cx="498.45" cy="260.42" r="1.05" fill="#c4c4c4" />
<circle cx="499.74" cy="247.92" r="1.05" fill="#c4c4c4" />
<circle cx="472.25" cy="206.81" r="1.05" fill="#c4c4c4" />
<circle cx="484.95" cy="231.57" r="1.05" fill="#c4c4c4" />
<circle cx="486.98" cy="201.27" r="1.05" fill="#c4c4c4" />
<circle cx="484.06" cy="241.59" r="1.05" fill="#c4c4c4" />
<circle cx="496.40" cy="238.51" r="1.05" fill="#c4c4c4" />
<circle cx="499.67" cy="208.19" r="1.05" fill="#c4c4c4" />
<circle cx="478.19" cy="248.64" r="1.05" fill="#c4c4c4" />
<circle cx="477.79" cy="247.86" r="1.05" fill="#c4c4c4" />
<circle cx="482.47" cy="202.91" r="1.05" fill="#c4c4c4" />
<circle cx="473.41" cy="242.80" r="1.05" fill="#c4c4c4" />
<circle cx="494.16" cy="226.87" r="1.05" fill="#c4c4c4" />
<circle cx="479.93" cy="247.83" r="1.05" fill="#c4c4c4" />
<circle cx="471.12" cy="219.95" r="1.05" fill="#c4c4c4" />
<circle cx="484.51" cy="237.63" r="1.05" fill="#c4c4c4" />
<circle cx="473.80" cy="161.70" r="1.45" fill="#cc3b2a" />
<circle cx="479.20" cy="164.20" r="1.45" fill="#cc3b2a" />
<circle cx="520.30" cy="179.80" r="1.45" fill="#cc3b2a" />
<circle cx="474.00" cy="186.00" r="1.45" fill="#cc3b2a" />
<circle cx="473.50" cy="191.30" r="1.45" fill="#cc3b2a" />
<circle cx="477.00" cy="191.30" r="1.45" fill="#cc3b2a" />
<circle cx="479.50" cy="191.50" r="1.45" fill="#cc3b2a" />
<circle cx="479.00" cy="200.60" r="1.45" fill="#cc3b2a" />
<circle cx="484.50" cy="200.20" r="1.45" fill="#cc3b2a" />
<circle cx="472.00" cy="210.00" r="1.45" fill="#cc3b2a" />
<circle cx="474.50" cy="213.00" r="1.45" fill="#cc3b2a" />
<circle cx="476.00" cy="214.50" r="1.45" fill="#cc3b2a" />
<circle cx="473.50" cy="224.00" r="1.45" fill="#cc3b2a" />
<circle cx="476.00" cy="224.00" r="1.45" fill="#cc3b2a" />
<circle cx="478.00" cy="224.00" r="1.45" fill="#cc3b2a" />
<circle cx="482.00" cy="228.00" r="1.45" fill="#cc3b2a" />
<circle cx="488.50" cy="228.50" r="1.45" fill="#cc3b2a" />
<circle cx="496.50" cy="228.50" r="1.45" fill="#cc3b2a" />
<circle cx="508.00" cy="228.50" r="1.45" fill="#cc3b2a" />
<circle cx="474.00" cy="234.80" r="1.45" fill="#cc3b2a" />
<circle cx="490.50" cy="235.50" r="1.45" fill="#cc3b2a" />
<circle cx="475.50" cy="240.00" r="1.45" fill="#cc3b2a" />
<circle cx="474.50" cy="245.50" r="1.45" fill="#cc3b2a" />
<circle cx="475.50" cy="249.00" r="1.45" fill="#cc3b2a" />
<circle cx="487.50" cy="224.50" r="1.45" fill="#1f8f78" />
<text x="421.00" y="183.80" font-size="4.3" text-anchor="start" font-weight="normal" fill="#3a3a3a" >Pcsk1</text>
<text x="421.00" y="199.30" font-size="4.3" text-anchor="start" font-weight="normal" fill="#3a3a3a" >Irgm1</text>
<text x="423.00" y="207.80" font-size="4.3" text-anchor="start" font-weight="normal" fill="#3a3a3a" >Marveld3</text>
<text x="427.00" y="212.00" font-size="4.3" text-anchor="start" font-weight="normal" fill="#3a3a3a" >Rasgrf</text>
<text x="440.00" y="219.20" font-size="4.3" text-anchor="start" font-weight="normal" fill="#3a3a3a" >Irsp1</text>
<text x="432.00" y="223.00" font-size="4.3" text-anchor="start" font-weight="normal" fill="#3a3a3a" >Mia</text>
<text x="438.00" y="223.50" font-size="4.3" text-anchor="start" font-weight="normal" fill="#3a3a3a" >Nyp3</text>
<text x="444.00" y="228.70" font-size="4.3" text-anchor="start" font-weight="normal" fill="#3a3a3a" >Trpc</text>
<text x="404.00" y="233.30" font-size="4.3" text-anchor="start" font-weight="normal" fill="#3a3a3a" >Gas2l3</text>
<text x="423.00" y="233.30" font-size="4.3" text-anchor="start" font-weight="normal" fill="#3a3a3a" >Cwc</text>
<text x="443.00" y="234.00" font-size="4.3" text-anchor="start" font-weight="normal" fill="#3a3a3a" >Lppo</text>
<text x="421.00" y="238.30" font-size="4.3" text-anchor="start" font-weight="normal" fill="#3a3a3a" >Ttc22</text>
<text x="440.00" y="237.50" font-size="4.3" text-anchor="start" font-weight="normal" fill="#3a3a3a" >Rr3</text>
<text x="417.00" y="247.10" font-size="4.3" text-anchor="start" font-weight="normal" fill="#3a3a3a" >Hmgb1</text>
<text x="437.00" y="248.00" font-size="4.3" text-anchor="start" font-weight="normal" fill="#3a3a3a" >Eva</text>
<text x="417.00" y="251.30" font-size="4.3" text-anchor="start" font-weight="normal" fill="#3a3a3a" >Kcnd</text>
<text x="440.00" y="252.00" font-size="4.3" text-anchor="start" font-weight="normal" fill="#3a3a3a" >Ptp</text>
<text x="434.00" y="255.50" font-size="4.3" text-anchor="start" font-weight="normal" fill="#3a3a3a" >Krt</text>
<text x="462.00" y="160.00" font-size="4.3" text-anchor="start" font-weight="normal" fill="#3a3a3a" >Zc3hav1</text>
<text x="477.00" y="169.30" font-size="4.3" text-anchor="start" font-weight="normal" fill="#3a3a3a" >Myd88</text>
<text x="510.00" y="178.00" font-size="4.3" text-anchor="start" font-weight="normal" fill="#3a3a3a" >Hmgb2</text>
<text x="465.00" y="183.80" font-size="4.3" text-anchor="start" font-weight="normal" fill="#3a3a3a" >Ercc6</text>
<text x="461.00" y="188.50" font-size="4.3" text-anchor="start" font-weight="normal" fill="#3a3a3a" >Tkcel</text>
<text x="474.00" y="193.00" font-size="4.3" text-anchor="start" font-weight="normal" fill="#3a3a3a" >Fbx44</text>
<text x="482.00" y="197.50" font-size="4.3" text-anchor="start" font-weight="normal" fill="#3a3a3a" >Ifit3</text>
<text x="475.00" y="205.00" font-size="4.3" text-anchor="start" font-weight="normal" fill="#3a3a3a" >Lrp1 Ifit</text>
<text x="470.00" y="213.00" font-size="4.3" text-anchor="start" font-weight="normal" fill="#3a3a3a" >Pdk1</text>
<text x="474.00" y="216.50" font-size="4.3" text-anchor="start" font-weight="normal" fill="#3a3a3a" >Cned3</text>
<text x="481.00" y="221.00" font-size="4.3" text-anchor="start" font-weight="normal" fill="#3a3a3a" >RND</text>
<text x="489.00" y="223.00" font-size="4.3" text-anchor="start" font-weight="normal" fill="#3a3a3a" >FTL1</text>
<text x="500.00" y="226.50" font-size="4.3" text-anchor="start" font-weight="normal" fill="#3a3a3a" >Ig ken</text>
<text x="479.00" y="227.20" font-size="4.3" text-anchor="start" font-weight="normal" fill="#3a3a3a" >C4b</text>
<text x="474.00" y="231.50" font-size="4.3" text-anchor="start" font-weight="normal" fill="#3a3a3a" >Taok2</text>
<text x="494.00" y="233.00" font-size="4.3" text-anchor="start" font-weight="normal" fill="#3a3a3a" >Tmem</text>
<text x="458.00" y="228.50" font-size="4.3" text-anchor="start" font-weight="normal" fill="#3a3a3a" >Chr</text>
<text x="476.00" y="237.50" font-size="4.3" text-anchor="start" font-weight="normal" fill="#3a3a3a" >Gyrs3</text>
<text x="490.00" y="241.00" font-size="4.3" text-anchor="start" font-weight="normal" fill="#3a3a3a" >Cytss</text>
<text x="469.00" y="239.00" font-size="4.3" text-anchor="start" font-weight="normal" fill="#3a3a3a" >Marcks</text>
<text x="478.00" y="245.10" font-size="4.3" text-anchor="start" font-weight="normal" fill="#3a3a3a" >Pcm1</text>
<text x="465.00" y="248.50" font-size="4.3" text-anchor="start" font-weight="normal" fill="#3a3a3a" >Cdsn</text>
<text x="476.00" y="252.00" font-size="4.3" text-anchor="start" font-weight="normal" fill="#3a3a3a" >Trph</text>
<line x1="455.80" y1="155.40" x2="455.80" y2="289.70" stroke="#999" stroke-width="1.3" stroke-dasharray="3.2,2.2"/>
<line x1="396.60" y1="252.40" x2="529.30" y2="252.40" stroke="#555" stroke-width="0.9" stroke-dasharray="3.2,2"/>
<rect x="396.60" y="155.40" width="132.70" height="134.30" fill="none" stroke="#6a6a6a" stroke-width="0.9" />
<line x1="394.10" y1="283.30" x2="396.60" y2="283.30" stroke="#444" stroke-width="0.8" />
<text x="391.60" y="286.10" font-size="7.8" text-anchor="end" font-weight="normal" fill="#444" >0</text>
<line x1="394.10" y1="259.75" x2="396.60" y2="259.75" stroke="#444" stroke-width="0.8" />
<text x="391.60" y="262.55" font-size="7.8" text-anchor="end" font-weight="normal" fill="#444" >1</text>
<line x1="394.10" y1="236.20" x2="396.60" y2="236.20" stroke="#444" stroke-width="0.8" />
<text x="391.60" y="239.00" font-size="7.8" text-anchor="end" font-weight="normal" fill="#444" >2</text>
<line x1="394.10" y1="212.65" x2="396.60" y2="212.65" stroke="#444" stroke-width="0.8" />
<text x="391.60" y="215.45" font-size="7.8" text-anchor="end" font-weight="normal" fill="#444" >3</text>
<line x1="394.10" y1="189.10" x2="396.60" y2="189.10" stroke="#444" stroke-width="0.8" />
<text x="391.60" y="191.90" font-size="7.8" text-anchor="end" font-weight="normal" fill="#444" >4</text>
<line x1="394.10" y1="165.55" x2="396.60" y2="165.55" stroke="#444" stroke-width="0.8" />
<text x="391.60" y="168.35" font-size="7.8" text-anchor="end" font-weight="normal" fill="#444" >5</text>
<line x1="423.00" y1="289.70" x2="423.00" y2="292.20" stroke="#444" stroke-width="0.8" />
<text x="423.00" y="301.00" font-size="7.8" text-anchor="middle" font-weight="normal" fill="#444" >−1</text>
<line x1="455.80" y1="289.70" x2="455.80" y2="292.20" stroke="#444" stroke-width="0.8" />
<text x="455.80" y="301.00" font-size="7.8" text-anchor="middle" font-weight="normal" fill="#444" >0</text>
<line x1="488.60" y1="289.70" x2="488.60" y2="292.20" stroke="#444" stroke-width="0.8" />
<text x="488.60" y="301.00" font-size="7.8" text-anchor="middle" font-weight="normal" fill="#444" >1</text>
<line x1="521.40" y1="289.70" x2="521.40" y2="292.20" stroke="#444" stroke-width="0.8" />
<text x="521.40" y="301.00" font-size="7.8" text-anchor="middle" font-weight="normal" fill="#444" >2</text>
<text x="463.5" y="312.6" font-size="9.3" text-anchor="middle" fill="#333">log<tspan font-size="5.5" dy="2.2">2</tspan><tspan dy="-2.2"> fold change</tspan></text>
<text x="380.8" y="222.6" font-size="8.9" text-anchor="middle" fill="#222" stroke="#222" stroke-width="0.1" transform="rotate(-90 380.8 222.6)">−log<tspan font-size="5.5" dy="2.2">10</tspan><tspan dy="-2.2"> </tspan><tspan font-style="italic">P</tspan> value (adjusted)</text>
<circle cx="534.60" cy="162.80" r="1.3" fill="#c4c4c4" />
<text x="538.90" y="165.40" font-size="7.4" text-anchor="start" font-weight="normal" fill="#333" >Detected</text>
<circle cx="534.60" cy="170.95" r="1.3" fill="#d2452c" />
<text x="538.90" y="173.55" font-size="7.4" text-anchor="start" font-weight="normal" fill="#333" >Upregulated</text>
<circle cx="534.60" cy="179.10" r="1.3" fill="#7cc6e6" />
<text x="538.90" y="181.70" font-size="7.4" text-anchor="start" font-weight="normal" fill="#333" >Downregulated</text>
<text x="604.80" y="157.80" font-size="15" text-anchor="start" font-weight="bold" fill="#111" stroke="#111" stroke-width="0.45">d</text>
<text x="701.70" y="175.90" font-size="9.05" text-anchor="middle" font-weight="normal" fill="#2b2b2b" >GO biological process</text>
<line x1="722.30" y1="186.00" x2="722.30" y2="260.20" stroke="#444" stroke-width="0.8" />
<line x1="722.30" y1="260.20" x2="796.20" y2="260.20" stroke="#444" stroke-width="0.8" />
<rect x="722.30" y="191.20" width="63.42" height="8.30" fill="#e3ecca" stroke="#3a3a3a" stroke-width="0.9" />
<line x1="719.80" y1="195.40" x2="722.30" y2="195.40" stroke="#444" stroke-width="0.8" />
<text x="717.30" y="198.00" font-size="7.35" text-anchor="end" font-weight="normal" fill="#333" >Innate immune response</text>
<text x="788.72" y="198.50" font-size="8.2" text-anchor="start" font-weight="bold" fill="#222" >10</text>
<rect x="722.30" y="205.00" width="33.92" height="8.30" fill="#e3ecca" stroke="#3a3a3a" stroke-width="0.9" />
<line x1="719.80" y1="209.20" x2="722.30" y2="209.20" stroke="#444" stroke-width="0.8" />
<text x="717.30" y="211.80" font-size="7.35" text-anchor="end" font-weight="normal" fill="#333" >Complement activation, classical pathway</text>
<text x="759.22" y="212.30" font-size="8.2" text-anchor="start" font-weight="bold" fill="#222" >4</text>
<rect x="722.30" y="218.80" width="33.92" height="8.30" fill="#e3ecca" stroke="#3a3a3a" stroke-width="0.9" />
<line x1="719.80" y1="223.00" x2="722.30" y2="223.00" stroke="#444" stroke-width="0.8" />
<text x="717.30" y="225.60" font-size="7.35" text-anchor="end" font-weight="normal" fill="#333" >Immunoglobulin mediated immune response</text>
<text x="759.22" y="226.10" font-size="8.2" text-anchor="start" font-weight="bold" fill="#222" >4</text>
<rect x="722.30" y="232.60" width="23.60" height="8.30" fill="#e3ecca" stroke="#3a3a3a" stroke-width="0.9" />
<line x1="719.80" y1="236.80" x2="722.30" y2="236.80" stroke="#444" stroke-width="0.8" />
<text x="717.30" y="239.40" font-size="7.35" text-anchor="end" font-weight="normal" fill="#333" >Adaptive immune response</text>
<text x="748.90" y="239.90" font-size="8.2" text-anchor="start" font-weight="bold" fill="#222" >5</text>
<rect x="722.30" y="246.40" width="19.18" height="8.30" fill="#e3ecca" stroke="#3a3a3a" stroke-width="0.9" />
<line x1="719.80" y1="250.60" x2="722.30" y2="250.60" stroke="#444" stroke-width="0.8" />
<text x="717.30" y="253.20" font-size="7.35" text-anchor="end" font-weight="normal" fill="#333" >Positive regulation of B cell activation</text>
<text x="744.47" y="253.70" font-size="8.2" text-anchor="start" font-weight="bold" fill="#222" >3</text>
<line x1="722.30" y1="260.20" x2="722.30" y2="262.60" stroke="#444" stroke-width="0.8" />
<text x="722.30" y="271.60" font-size="7.8" text-anchor="middle" font-weight="normal" fill="#444" >0</text>
<line x1="737.05" y1="260.20" x2="737.05" y2="262.60" stroke="#444" stroke-width="0.8" />
<text x="737.05" y="271.60" font-size="7.8" text-anchor="middle" font-weight="normal" fill="#444" >1</text>
<line x1="751.80" y1="260.20" x2="751.80" y2="262.60" stroke="#444" stroke-width="0.8" />
<text x="751.80" y="271.60" font-size="7.8" text-anchor="middle" font-weight="normal" fill="#444" >2</text>
<line x1="766.55" y1="260.20" x2="766.55" y2="262.60" stroke="#444" stroke-width="0.8" />
<text x="766.55" y="271.60" font-size="7.8" text-anchor="middle" font-weight="normal" fill="#444" >3</text>
<line x1="781.30" y1="260.20" x2="781.30" y2="262.60" stroke="#444" stroke-width="0.8" />
<text x="781.30" y="271.60" font-size="7.8" text-anchor="middle" font-weight="normal" fill="#444" >4</text>
<line x1="796.05" y1="260.20" x2="796.05" y2="262.60" stroke="#444" stroke-width="0.8" />
<text x="796.05" y="271.60" font-size="7.8" text-anchor="middle" font-weight="normal" fill="#444" >5</text>
<text x="759" y="283" font-size="8.8" text-anchor="middle" fill="#333">−log<tspan font-size="5.5" dy="2.2">10</tspan><tspan dy="-2.2">(FDR)</tspan></text>
<text x="1.50" y="330.20" font-size="14" text-anchor="start" font-weight="bold" fill="#111" stroke="#111" stroke-width="0.45">e</text>
<circle cx="54.00" cy="392.40" r="54" fill="#fbd4bb" />
<circle cx="145.50" cy="392.30" r="53.7" fill="#e0ebc9" />
<path d="M99.75,363.6 A54,54 0 0 1 99.75,421.2 A53.7,53.7 0 0 1 99.75,363.6 Z" fill="#e2cd9c"/>
<text x="54.00" y="387.80" font-size="7.3" text-anchor="middle" font-weight="normal" fill="#2b2b2b" >Neuronal gene</text>
<text x="54.00" y="396.20" font-size="7.3" text-anchor="middle" font-weight="normal" fill="#2b2b2b" >expression changes</text>
<text x="54.00" y="404.40" font-size="7.3" text-anchor="middle" font-weight="normal" fill="#2b2b2b" >with age</text>
<text x="54.00" y="418.60" font-size="7.3" text-anchor="middle" font-weight="normal" fill="#2b2b2b" >Up = 28</text>
<text x="54.00" y="427.20" font-size="7.3" text-anchor="middle" font-weight="normal" fill="#2b2b2b" >Down = 81</text>
<text x="99.80" y="396.20" font-size="6.9" text-anchor="middle" font-weight="normal" fill="#333" >FTL1</text>
<text x="152.30" y="390.80" font-size="7.3" text-anchor="middle" font-weight="normal" fill="#2b2b2b" >Synapse protein</text>
<text x="152.30" y="399.80" font-size="7.3" text-anchor="middle" font-weight="normal" fill="#2b2b2b" >changes with age</text>
<text x="152.30" y="418.90" font-size="7.3" text-anchor="middle" font-weight="normal" fill="#2b2b2b" >Up = 27</text>
<text x="152.30" y="427.20" font-size="7.3" text-anchor="middle" font-weight="normal" fill="#2b2b2b" >Down = 19</text>
<text x="223.80" y="330.20" font-size="14" text-anchor="start" font-weight="bold" fill="#111" stroke="#111" stroke-width="0.45">f</text>
<text x="242.60" y="334.50" font-size="8.45" text-anchor="start" font-weight="normal" fill="#2b2b2b" >Neuronal Ftl1 mRNA</text>
<rect x="262.30" y="399.80" width="15.20" height="42.40" fill="#c3e5f6" stroke="#4a4a4a" stroke-width="0.75" />
<rect x="287.10" y="384.11" width="15.50" height="58.09" fill="#8593c2" stroke="#4a4a4a" stroke-width="0.75" />
<line x1="253.40" y1="357.40" x2="253.40" y2="442.20" stroke="#444" stroke-width="0.8" />
<line x1="253.40" y1="442.20" x2="310.00" y2="442.20" stroke="#444" stroke-width="0.8" />
<line x1="250.90" y1="442.20" x2="253.40" y2="442.20" stroke="#444" stroke-width="0.8" />
<text x="248.40" y="444.80" font-size="7.6" text-anchor="end" font-weight="normal" fill="#444" >0</text>
<line x1="250.90" y1="421.00" x2="253.40" y2="421.00" stroke="#444" stroke-width="0.8" />
<text x="248.40" y="423.60" font-size="7.6" text-anchor="end" font-weight="normal" fill="#444" >0.5</text>
<line x1="250.90" y1="399.80" x2="253.40" y2="399.80" stroke="#444" stroke-width="0.8" />
<text x="248.40" y="402.40" font-size="7.6" text-anchor="end" font-weight="normal" fill="#444" >1.0</text>
<line x1="250.90" y1="378.60" x2="253.40" y2="378.60" stroke="#444" stroke-width="0.8" />
<text x="248.40" y="381.20" font-size="7.6" text-anchor="end" font-weight="normal" fill="#444" >1.5</text>
<line x1="250.90" y1="357.40" x2="253.40" y2="357.40" stroke="#444" stroke-width="0.8" />
<text x="248.40" y="360.00" font-size="7.6" text-anchor="end" font-weight="normal" fill="#444" >2.0</text>
<line x1="269.90" y1="442.20" x2="269.90" y2="444.70" stroke="#444" stroke-width="0.8" />
<line x1="295.00" y1="442.20" x2="295.00" y2="444.70" stroke="#444" stroke-width="0.8" />
<line x1="269.90" y1="401.92" x2="269.90" y2="397.68" stroke="#222" stroke-width="0.8" />
<line x1="266.50" y1="397.68" x2="273.30" y2="397.68" stroke="#222" stroke-width="0.8" />
<line x1="295.00" y1="389.20" x2="295.00" y2="378.60" stroke="#222" stroke-width="0.8" />
<line x1="291.00" y1="378.60" x2="299.00" y2="378.60" stroke="#222" stroke-width="0.8" />
<line x1="291.00" y1="389.20" x2="299.00" y2="389.20" stroke="#222" stroke-width="0.8" />
<circle cx="271.50" cy="391.32" r="1.2" fill="#111" />
<circle cx="267.50" cy="397.26" r="1.2" fill="#111" />
<circle cx="272.50" cy="397.68" r="1.2" fill="#111" />
<circle cx="266.00" cy="402.34" r="1.2" fill="#111" />
<circle cx="270.00" cy="405.31" r="1.2" fill="#111" />
<circle cx="273.50" cy="402.34" r="1.2" fill="#111" />
<circle cx="270.50" cy="407.43" r="1.2" fill="#111" />
<circle cx="295.00" cy="363.76" r="1.2" fill="#111" />
<circle cx="295.00" cy="378.60" r="1.2" fill="#111" />
<circle cx="293.00" cy="387.08" r="1.2" fill="#111" />
<circle cx="295.50" cy="393.02" r="1.2" fill="#111" />
<circle cx="295.00" cy="401.92" r="1.2" fill="#111" />
<path d="M269.7,387.08 L269.7,353.3 L294.6,353.3 L294.6,361.64" fill="none" stroke="#333" stroke-width="0.8" />
<text x="282.00" y="356.00" font-size="12.5" text-anchor="middle" font-weight="normal" fill="#222" >*</text>
<text x="231.00" y="401.50" font-size="8.3" text-anchor="middle" font-weight="normal" fill="#333" transform="rotate(-90 231 401.5)">Fold change</text>
<text x="272.00" y="449.00" font-size="8.4" text-anchor="end" font-weight="normal" fill="#333" transform="rotate(-45 272 449)">Young</text>
<text x="297.00" y="449.00" font-size="8.4" text-anchor="end" font-weight="normal" fill="#333" transform="rotate(-45 297 449)">Aged</text>
<text x="345.50" y="330.50" font-size="14" text-anchor="start" font-weight="bold" fill="#111" stroke="#111" stroke-width="0.45">g</text>
<text x="377.80" y="376.20" font-size="8.4" text-anchor="middle" font-weight="normal" fill="#333" >Young</text>
<text x="429.40" y="376.20" font-size="8.4" text-anchor="middle" font-weight="normal" fill="#333" >Aged</text>
<rect x="352.10" y="382.30" width="105.40" height="17.40" fill="#f7f7f7" stroke="#444" stroke-width="0.7" />
<rect x="352.10" y="402.00" width="105.40" height="17.40" fill="#f4f4f4" stroke="#444" stroke-width="0.7" />
<rect x="352.20" y="390.00" width="15.60" height="2.60" rx="1.30" fill="#c4c4c4" filter="url(#bl)" transform="rotate(-3 360 391.3)"/>
<rect x="369.20" y="389.50" width="15.60" height="3.00" rx="1.50" fill="#b0b0b0" filter="url(#bl)" transform="rotate(-3 377 391.0)"/>
<rect x="385.70" y="389.70" width="15.60" height="3.00" rx="1.50" fill="#a4a4a4" filter="url(#bl)" transform="rotate(-3 393.5 391.2)"/>
<rect x="402.80" y="388.40" width="16.40" height="4.00" rx="2.00" fill="#1c1c1c" filter="url(#bl)" transform="rotate(-3 411 390.4)"/>
<rect x="419.80" y="387.60" width="16.40" height="4.20" rx="2.10" fill="#1c1c1c" filter="url(#bl)" transform="rotate(-3 428 389.7)"/>
<rect x="437.00" y="387.10" width="16.00" height="3.80" rx="1.90" fill="#2a2a2a" filter="url(#bl)" transform="rotate(-3 445 389)"/>
<rect x="351.80" y="408.90" width="16.40" height="4.20" rx="2.10" fill="#3c3c3c" filter="url(#bl)" transform="rotate(-3 360 411)"/>
<rect x="368.80" y="408.40" width="16.40" height="4.20" rx="2.10" fill="#3a3a3a" filter="url(#bl)" transform="rotate(-3 377 410.5)"/>
<rect x="385.30" y="408.30" width="16.40" height="4.20" rx="2.10" fill="#2e2e2e" filter="url(#bl)" transform="rotate(-3 393.5 410.4)"/>
<rect x="402.60" y="407.70" width="16.80" height="4.60" rx="2.30" fill="#181818" filter="url(#bl)" transform="rotate(-3 411 410)"/>
<rect x="419.60" y="407.00" width="16.80" height="4.60" rx="2.30" fill="#181818" filter="url(#bl)" transform="rotate(-3 428 409.3)"/>
<rect x="436.80" y="406.30" width="16.40" height="4.40" rx="2.20" fill="#333" filter="url(#bl)" transform="rotate(-3 445 408.5)"/>
<line x1="402.20" y1="371.00" x2="402.20" y2="420.00" stroke="#777" stroke-width="0.7" stroke-dasharray="0.9,1.1"/>
<text x="460.00" y="393.50" font-size="7.2" text-anchor="start" font-weight="normal" fill="#333" >FTL1</text>
<text x="460.00" y="412.20" font-size="7.2" text-anchor="start" font-weight="normal" fill="#333" >GAPDH</text>
<text x="347.00" y="393.20" font-size="7.2" text-anchor="end" font-weight="normal" fill="#333" >20 kDa</text>
<text x="347.00" y="412.00" font-size="7.2" text-anchor="end" font-weight="normal" fill="#333" >36 kDa</text>
<text x="556.10" y="331.50" font-size="8.7" text-anchor="middle" font-weight="normal" fill="#333" >Hippocampal FTL1</text>
<text x="556.30" y="341.80" font-size="8.7" text-anchor="middle" font-weight="normal" fill="#333" >protein</text>
<rect x="535.10" y="419.08" width="16.90" height="23.22" fill="#c3e5f6" stroke="#4a4a4a" stroke-width="0.75" />
<rect x="561.50" y="395.16" width="17.20" height="47.14" fill="#8593c2" stroke="#4a4a4a" stroke-width="0.75" />
<line x1="525.50" y1="349.42" x2="525.50" y2="442.30" stroke="#444" stroke-width="0.8" />
<line x1="525.50" y1="442.30" x2="587.60" y2="442.30" stroke="#444" stroke-width="0.8" />
<line x1="523.00" y1="442.30" x2="525.50" y2="442.30" stroke="#444" stroke-width="0.8" />
<text x="520.50" y="444.90" font-size="7.6" text-anchor="end" font-weight="normal" fill="#444" >0</text>
<line x1="523.00" y1="419.08" x2="525.50" y2="419.08" stroke="#444" stroke-width="0.8" />
<text x="520.50" y="421.68" font-size="7.6" text-anchor="end" font-weight="normal" fill="#444" >1</text>
<line x1="523.00" y1="395.86" x2="525.50" y2="395.86" stroke="#444" stroke-width="0.8" />
<text x="520.50" y="398.46" font-size="7.6" text-anchor="end" font-weight="normal" fill="#444" >2</text>
<line x1="523.00" y1="372.64" x2="525.50" y2="372.64" stroke="#444" stroke-width="0.8" />
<text x="520.50" y="375.24" font-size="7.6" text-anchor="end" font-weight="normal" fill="#444" >3</text>
<line x1="523.00" y1="349.42" x2="525.50" y2="349.42" stroke="#444" stroke-width="0.8" />
<text x="520.50" y="352.02" font-size="7.6" text-anchor="end" font-weight="normal" fill="#444" >4</text>
<line x1="543.50" y1="442.30" x2="543.50" y2="444.80" stroke="#444" stroke-width="0.8" />
<line x1="570.10" y1="442.30" x2="570.10" y2="444.80" stroke="#444" stroke-width="0.8" />
<line x1="543.50" y1="421.40" x2="543.50" y2="416.76" stroke="#222" stroke-width="0.8" />
<line x1="540.00" y1="416.76" x2="547.00" y2="416.76" stroke="#222" stroke-width="0.8" />
<line x1="570.10" y1="400.50" x2="570.10" y2="390.06" stroke="#222" stroke-width="0.8" />
<line x1="566.00" y1="390.06" x2="574.00" y2="390.06" stroke="#222" stroke-width="0.8" />
<circle cx="543.50" cy="405.84" r="1.2" fill="#111" />
<circle cx="543.50" cy="412.11" r="1.2" fill="#111" />
<circle cx="541.50" cy="416.76" r="1.2" fill="#111" />
<circle cx="545.50" cy="416.76" r="1.2" fill="#111" />
<circle cx="537.00" cy="420.24" r="1.2" fill="#111" />
<circle cx="540.00" cy="420.94" r="1.2" fill="#111" />
<circle cx="543.50" cy="421.40" r="1.2" fill="#111" />
<circle cx="547.00" cy="420.94" r="1.2" fill="#111" />
<circle cx="550.00" cy="420.24" r="1.2" fill="#111" />
<circle cx="539.00" cy="424.19" r="1.2" fill="#111" />
<circle cx="543.50" cy="424.88" r="1.2" fill="#111" />
<circle cx="548.00" cy="423.72" r="1.2" fill="#111" />
<circle cx="570.10" cy="367.53" r="1.2" fill="#1a2040" />
<circle cx="570.10" cy="383.79" r="1.2" fill="#1a2040" />
<circle cx="570.10" cy="391.22" r="1.2" fill="#1a2040" />
<circle cx="564.50" cy="395.86" r="1.2" fill="#1a2040" />
<circle cx="568.00" cy="397.02" r="1.2" fill="#1a2040" />
<circle cx="573.00" cy="397.02" r="1.2" fill="#1a2040" />
<circle cx="576.00" cy="395.86" r="1.2" fill="#1a2040" />
<circle cx="567.50" cy="406.31" r="1.2" fill="#1a2040" />
<circle cx="569.50" cy="413.97" r="1.2" fill="#1a2040" />
<path d="M543.4,400.50 L543.4,356.3 L570.2,356.3 L570.2,362.19" fill="none" stroke="#333" stroke-width="0.8" />
<text x="556.80" y="357.50" font-size="12.5" text-anchor="middle" font-weight="normal" fill="#222" >****</text>
<text x="509.20" y="388.50" font-size="9.0" text-anchor="middle" font-weight="normal" fill="#333" transform="rotate(-90 509.2 388.5)">Mean intensity (fold change)</text>
<text x="546.00" y="450.00" font-size="8.4" text-anchor="end" font-weight="normal" fill="#333" transform="rotate(-45 546 450)">Young</text>
<text x="573.00" y="450.00" font-size="8.4" text-anchor="end" font-weight="normal" fill="#333" transform="rotate(-45 573 450)">Aged</text>
<text x="620.30" y="330.30" font-size="14.5" text-anchor="start" font-weight="bold" fill="#111" stroke="#111" stroke-width="0.45">h</text>
<text x="718.30" y="334.50" font-size="8.9" text-anchor="middle" font-weight="normal" fill="#333" >Ftl1 levels and cognition</text>
<line x1="654.30" y1="357.10" x2="654.30" y2="441.60" stroke="#555" stroke-width="0.8" />
<line x1="654.30" y1="407.80" x2="783.05" y2="407.80" stroke="#777" stroke-width="0.8" />
<line x1="651.80" y1="357.10" x2="654.30" y2="357.10" stroke="#555" stroke-width="0.8" />
<text x="649.30" y="359.70" font-size="7.6" text-anchor="end" font-weight="normal" fill="#555" >1.5</text>
<line x1="651.80" y1="374.00" x2="654.30" y2="374.00" stroke="#555" stroke-width="0.8" />
<text x="649.30" y="376.60" font-size="7.6" text-anchor="end" font-weight="normal" fill="#555" >1.0</text>
<line x1="651.80" y1="390.90" x2="654.30" y2="390.90" stroke="#555" stroke-width="0.8" />
<text x="649.30" y="393.50" font-size="7.6" text-anchor="end" font-weight="normal" fill="#555" >0.5</text>
<line x1="651.80" y1="407.80" x2="654.30" y2="407.80" stroke="#555" stroke-width="0.8" />
<text x="649.30" y="410.40" font-size="7.6" text-anchor="end" font-weight="normal" fill="#555" >0</text>
<line x1="651.80" y1="424.70" x2="654.30" y2="424.70" stroke="#555" stroke-width="0.8" />
<text x="649.30" y="427.30" font-size="7.6" text-anchor="end" font-weight="normal" fill="#555" >−0.5</text>
<line x1="651.80" y1="441.60" x2="654.30" y2="441.60" stroke="#555" stroke-width="0.8" />
<text x="649.30" y="444.20" font-size="7.6" text-anchor="end" font-weight="normal" fill="#555" >−1.0</text>
<line x1="680.05" y1="405.30" x2="680.05" y2="407.80" stroke="#555" stroke-width="0.8" />
<text x="680.05" y="419.30" font-size="7.6" text-anchor="middle" font-weight="normal" fill="#555" >0.5</text>
<line x1="705.80" y1="405.30" x2="705.80" y2="407.80" stroke="#555" stroke-width="0.8" />
<text x="705.80" y="419.30" font-size="7.6" text-anchor="middle" font-weight="normal" fill="#555" >1.0</text>
<line x1="731.55" y1="405.30" x2="731.55" y2="407.80" stroke="#555" stroke-width="0.8" />
<text x="731.55" y="419.30" font-size="7.6" text-anchor="middle" font-weight="normal" fill="#555" >1.5</text>
<line x1="757.30" y1="405.30" x2="757.30" y2="407.80" stroke="#555" stroke-width="0.8" />
<text x="757.30" y="419.30" font-size="7.6" text-anchor="middle" font-weight="normal" fill="#555" >2.0</text>
<line x1="783.05" y1="405.30" x2="783.05" y2="407.80" stroke="#555" stroke-width="0.8" />
<text x="783.05" y="419.30" font-size="7.6" text-anchor="middle" font-weight="normal" fill="#555" >2.5</text>
<text x="718.50" y="433.00" font-size="8.4" text-anchor="middle" font-weight="normal" fill="#333" >Ftl1</text>
<text x="628.20" y="399.00" font-size="9.2" text-anchor="middle" font-weight="normal" fill="#333" transform="rotate(-90 628.2 399)">Cognitive performance score</text>
<circle cx="674.40" cy="370.60" r="1.75" fill="#a2c6d9" />
<circle cx="674.40" cy="385.00" r="1.75" fill="#a2c6d9" />
<circle cx="670.90" cy="389.20" r="1.75" fill="#a2c6d9" />
<circle cx="676.30" cy="392.20" r="1.75" fill="#a2c6d9" />
<circle cx="690.70" cy="401.80" r="1.75" fill="#a2c6d9" />
<circle cx="704.10" cy="389.80" r="1.75" fill="#a2c6d9" />
<circle cx="716.60" cy="394.50" r="1.75" fill="#a2c6d9" />
<circle cx="715.70" cy="402.20" r="1.75" fill="#a2c6d9" />
<circle cx="681.10" cy="423.00" r="1.75" fill="#a2c6d9" />
<circle cx="696.50" cy="428.10" r="1.75" fill="#a2c6d9" />
<circle cx="702.20" cy="415.70" r="1.75" fill="#a2c6d9" />
<circle cx="705.50" cy="376.30" r="1.75" fill="#1b3a6b" />
<circle cx="713.40" cy="377.30" r="1.75" fill="#1b3a6b" />
<circle cx="739.70" cy="398.40" r="1.75" fill="#1b3a6b" />
<circle cx="732.60" cy="409.30" r="1.75" fill="#1b3a6b" />
<circle cx="730.10" cy="415.70" r="1.75" fill="#1b3a6b" />
<circle cx="747.30" cy="418.20" r="1.75" fill="#1b3a6b" />
<circle cx="746.40" cy="422.40" r="1.75" fill="#1b3a6b" />
<circle cx="753.50" cy="420.50" r="1.75" fill="#1b3a6b" />
<circle cx="690.30" cy="428.10" r="1.75" fill="#1b3a6b" />
<circle cx="699.00" cy="437.70" r="1.75" fill="#1b3a6b" />
<circle cx="750.60" cy="439.70" r="1.75" fill="#1b3a6b" />
<path d="M670.6,393 L760.8,421.4" fill="none" stroke="#222" stroke-width="0.9" />
<path d="M670.6,380.2 C695,390 715,400 735,403.5 C745,405 755,405 760.8,405.1" fill="none" stroke="#222" stroke-width="0.9" />
<path d="M670.6,405.1 C690,407 705,410 720,416 C735,423 750,432 760.8,437.7" fill="none" stroke="#222" stroke-width="0.9" />
<circle cx="752.60" cy="347.90" r="1.8" fill="#a2c6d9" />
<text x="757.70" y="350.50" font-size="7.6" text-anchor="start" font-weight="normal" fill="#333" >Young</text>
<circle cx="752.60" cy="357.80" r="1.8" fill="#1b3a6b" />
<text x="757.70" y="360.40" font-size="7.6" text-anchor="start" font-weight="normal" fill="#333" >Aged</text>
<text x="750.5" y="375.3" font-size="8.8" fill="#333"><tspan font-style="italic">r</tspan> = −0.4344</text>
<text x="750.5" y="382.6" font-size="8.8" fill="#333"><tspan font-style="italic">P</tspan> = 0.0266</text>
</svg></body></html>
